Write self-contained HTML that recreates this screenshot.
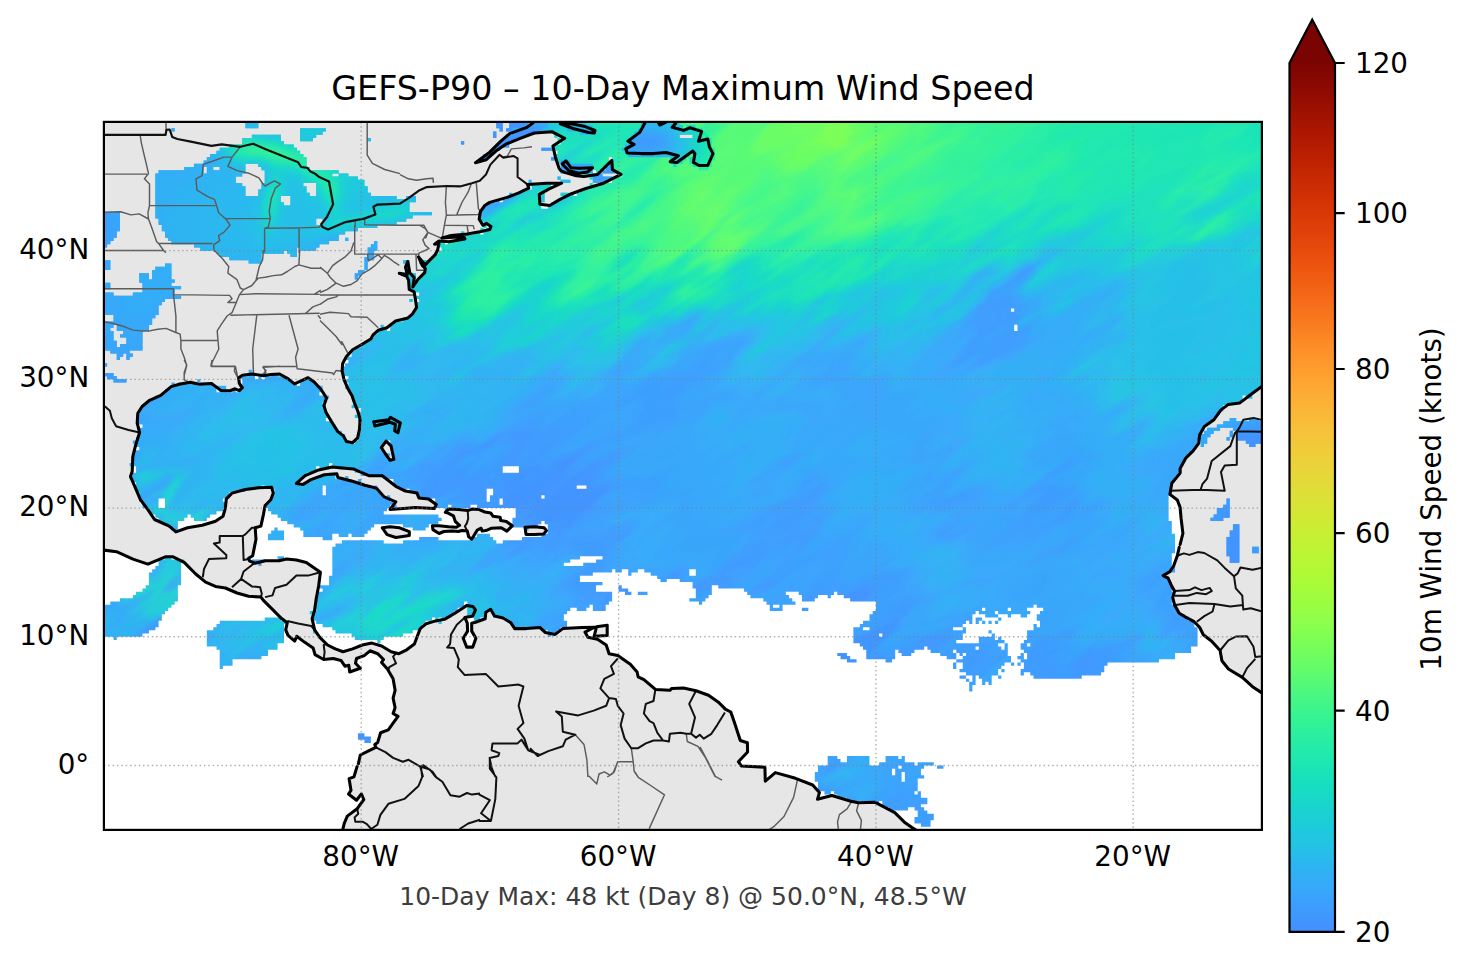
<!DOCTYPE html><html><head><meta charset="utf-8"><title>GEFS-P90</title>
<style>html,body{margin:0;padding:0;background:#fff}svg{display:block}text{font-family:"DejaVu Sans","Liberation Sans",sans-serif;fill:#000}</style></head><body>
<svg width="1466" height="969" viewBox="0 0 1466 969">
<defs>
<linearGradient id="cb" gradientUnits="userSpaceOnUse" x1="0" y1="931.9" x2="0" y2="63.0"><stop offset="0.0000" stop-color="#448ffe"/><stop offset="0.0250" stop-color="#3e9bfe"/><stop offset="0.0500" stop-color="#37a8fa"/><stop offset="0.0750" stop-color="#2eb4f2"/><stop offset="0.1000" stop-color="#23c3e4"/><stop offset="0.1250" stop-color="#1ccdd8"/><stop offset="0.1500" stop-color="#18d7ca"/><stop offset="0.1750" stop-color="#18e0bd"/><stop offset="0.2000" stop-color="#1fe9af"/><stop offset="0.2250" stop-color="#2aefa1"/><stop offset="0.2500" stop-color="#38f491"/><stop offset="0.2750" stop-color="#4af880"/><stop offset="0.3000" stop-color="#61fc6c"/><stop offset="0.3250" stop-color="#75fe5c"/><stop offset="0.3500" stop-color="#88ff4e"/><stop offset="0.3750" stop-color="#99fe42"/><stop offset="0.4000" stop-color="#a9fb39"/><stop offset="0.4250" stop-color="#b7f735"/><stop offset="0.4500" stop-color="#c3f134"/><stop offset="0.4750" stop-color="#d0ea34"/><stop offset="0.5000" stop-color="#dde037"/><stop offset="0.5250" stop-color="#e7d739"/><stop offset="0.5500" stop-color="#efcd3a"/><stop offset="0.5750" stop-color="#f6c33a"/><stop offset="0.6000" stop-color="#fbb637"/><stop offset="0.6250" stop-color="#fea933"/><stop offset="0.6500" stop-color="#fe9b2d"/><stop offset="0.6750" stop-color="#fd8d27"/><stop offset="0.7000" stop-color="#fa7b1f"/><stop offset="0.7250" stop-color="#f66c19"/><stop offset="0.7500" stop-color="#f15d13"/><stop offset="0.7750" stop-color="#eb500e"/><stop offset="0.8000" stop-color="#e2430a"/><stop offset="0.8250" stop-color="#da3907"/><stop offset="0.8500" stop-color="#d02f05"/><stop offset="0.8750" stop-color="#c52603"/><stop offset="0.9000" stop-color="#b71d02"/><stop offset="0.9250" stop-color="#a91601"/><stop offset="0.9500" stop-color="#9b0f01"/><stop offset="0.9750" stop-color="#8b0902"/><stop offset="1.0000" stop-color="#7a0403"/></linearGradient>
<clipPath id="mapclip"><rect x="103.9" y="121.9" width="1158.0" height="708.0"/></clipPath>
<clipPath id="wm"><path transform="translate(103.90 121.90) scale(3.21667 3.21818)" d="M44 0h4v1h-4zM122 0h2v1h-2zM126 0h6v1h-6zM133 0h227v1h-227zM44 1h4v1h-4zM122 1h2v1h-2zM126 1h234v1h-234zM21 2h1v1h-1zM61 2h8v1h-8zM123 2h1v1h-1zM125 2h235v1h-235zM61 3h7v1h-7zM121 3h1v1h-1zM127 3h7v1h-7zM140 3h220v1h-220zM46 4h9v1h-9zM61 4h5v1h-5zM121 4h1v1h-1zM125 4h6v1h-6zM140 4h1v1h-1zM142 4h37v1h-37zM183 4h177v1h-177zM43 5h12v1h-12zM61 5h4v1h-4zM82 5h1v1h-1zM124 5h4v1h-4zM141 5h1v1h-1zM143 5h217v1h-217zM43 6h13v1h-13zM111 6h1v1h-1zM123 6h3v1h-3zM142 6h218v1h-218zM39 7h20v1h-20zM122 7h4v1h-4zM140 7h220v1h-220zM36 8h24v1h-24zM121 8h2v1h-2zM136 8h224v1h-224zM35 9h26v1h-26zM120 9h1v1h-1zM141 9h219v1h-219zM33 10h29v1h-29zM118 10h2v1h-2zM140 10h220v1h-220zM32 11h31v1h-31zM117 11h2v1h-2zM139 11h18v1h-18zM158 11h202v1h-202zM31 12h32v1h-32zM141 12h16v1h-16zM158 12h202v1h-202zM28 13h16v1h-16zM48 13h15v1h-15zM142 13h218v1h-218zM25 14h6v1h-6zM32 14h2v1h-2zM36 14h8v1h-8zM49 14h15v1h-15zM142 14h13v1h-13zM156 14h204v1h-204zM17 15h14v1h-14zM32 15h12v1h-12zM50 15h23v1h-23zM142 15h10v1h-10zM153 15h1v1h-1zM155 15h205v1h-205zM16 16h27v1h-27zM50 16h21v1h-21zM73 16h3v1h-3zM146 16h2v1h-2zM149 16h6v1h-6zM161 16h199v1h-199zM16 17h25v1h-25zM50 17h29v1h-29zM141 17h1v1h-1zM151 17h209v1h-209zM16 18h25v1h-25zM50 18h31v1h-31zM132 18h1v1h-1zM142 18h3v1h-3zM152 18h5v1h-5zM158 18h202v1h-202zM16 19h27v1h-27zM49 19h13v1h-13zM66 19h15v1h-15zM132 19h7v1h-7zM140 19h1v1h-1zM151 19h1v1h-1zM154 19h206v1h-206zM16 20h28v1h-28zM49 20h14v1h-14zM66 20h16v1h-16zM133 20h6v1h-6zM151 20h209v1h-209zM16 21h28v1h-28zM48 21h15v1h-15zM66 21h16v1h-16zM130 21h7v1h-7zM148 21h212v1h-212zM16 22h28v1h-28zM48 22h16v1h-16zM66 22h17v1h-17zM126 22h1v1h-1zM128 22h7v1h-7zM136 22h1v1h-1zM142 22h4v1h-4zM147 22h213v1h-213zM16 23h39v1h-39zM58 23h33v1h-33zM94 23h3v1h-3zM125 23h12v1h-12zM143 23h217v1h-217zM16 24h39v1h-39zM58 24h39v1h-39zM122 24h1v1h-1zM124 24h11v1h-11zM136 24h1v1h-1zM141 24h219v1h-219zM16 25h40v1h-40zM58 25h37v1h-37zM119 25h17v1h-17zM139 25h221v1h-221zM16 26h79v1h-79zM118 26h18v1h-18zM138 26h222v1h-222zM16 27h79v1h-79zM117 27h243v1h-243zM0 28h5v1h-5zM16 28h86v1h-86zM117 28h243v1h-243zM0 29h5v1h-5zM16 29h80v1h-80zM117 29h243v1h-243zM0 30h5v1h-5zM17 30h49v1h-49zM68 30h26v1h-26zM117 30h243v1h-243zM0 31h5v1h-5zM17 31h49v1h-49zM68 31h23v1h-23zM118 31h242v1h-242zM0 32h5v1h-5zM18 32h67v1h-67zM118 32h1v1h-1zM120 32h240v1h-240zM0 33h5v1h-5zM18 33h61v1h-61zM117 33h1v1h-1zM119 33h241v1h-241zM0 34h4v1h-4zM19 34h56v1h-56zM111 34h1v1h-1zM115 34h2v1h-2zM118 34h242v1h-242zM0 35h4v1h-4zM19 35h54v1h-54zM107 35h3v1h-3zM111 35h249v1h-249zM0 36h3v1h-3zM20 36h53v1h-53zM75 36h1v1h-1zM111 36h249v1h-249zM0 37h2v1h-2zM21 37h49v1h-49zM84 37h1v1h-1zM104 37h2v1h-2zM107 37h253v1h-253zM0 38h1v1h-1zM28 38h39v1h-39zM83 38h2v1h-2zM104 38h256v1h-256zM30 39h30v1h-30zM61 39h5v1h-5zM82 39h3v1h-3zM105 39h255v1h-255zM35 40h21v1h-21zM57 40h3v1h-3zM82 40h2v1h-2zM104 40h256v1h-256zM36 41h13v1h-13zM58 41h2v1h-2zM82 41h2v1h-2zM103 41h257v1h-257zM39 42h10v1h-10zM81 42h3v1h-3zM102 42h258v1h-258zM0 43h2v1h-2zM45 43h4v1h-4zM81 43h1v1h-1zM93 43h2v1h-2zM98 43h262v1h-262zM0 44h2v1h-2zM19 44h2v1h-2zM81 44h1v1h-1zM94 44h1v1h-1zM99 44h261v1h-261zM0 45h2v1h-2zM16 45h5v1h-5zM81 45h1v1h-1zM100 45h260v1h-260zM15 46h6v1h-6zM79 46h2v1h-2zM94 46h1v1h-1zM100 46h260v1h-260zM11 47h3v1h-3zM15 47h6v1h-6zM78 47h2v1h-2zM94 47h3v1h-3zM99 47h261v1h-261zM11 48h3v1h-3zM15 48h6v1h-6zM78 48h1v1h-1zM94 48h3v1h-3zM98 48h262v1h-262zM11 49h11v1h-11zM95 49h1v1h-1zM97 49h263v1h-263zM0 50h2v1h-2zM12 50h9v1h-9zM95 50h1v1h-1zM97 50h263v1h-263zM0 51h2v1h-2zM12 51h12v1h-12zM95 51h265v1h-265zM12 52h10v1h-10zM96 52h264v1h-264zM0 53h3v1h-3zM9 53h13v1h-13zM98 53h262v1h-262zM0 54h24v1h-24zM97 54h263v1h-263zM0 55h19v1h-19zM95 55h1v1h-1zM98 55h262v1h-262zM0 56h18v1h-18zM97 56h263v1h-263zM0 57h17v1h-17zM97 57h263v1h-263zM0 58h17v1h-17zM97 58h185v1h-185zM283 58h77v1h-77zM0 59h17v1h-17zM96 59h264v1h-264zM3 60h13v1h-13zM95 60h265v1h-265zM3 61h12v1h-12zM93 61h267v1h-267zM0 62h15v1h-15zM90 62h270v1h-270zM0 63h3v1h-3zM4 63h10v1h-10zM86 63h1v1h-1zM89 63h194v1h-194zM284 63h76v1h-76zM0 64h2v1h-2zM4 64h10v1h-10zM86 64h2v1h-2zM89 64h194v1h-194zM284 64h76v1h-76zM0 65h3v1h-3zM6 65h6v1h-6zM85 65h275v1h-275zM0 66h3v1h-3zM5 66h7v1h-7zM84 66h276v1h-276zM0 67h3v1h-3zM7 67h5v1h-5zM83 67h277v1h-277zM0 68h4v1h-4zM7 68h5v1h-5zM81 68h279v1h-279zM0 69h4v1h-4zM5 69h7v1h-7zM80 69h280v1h-280zM0 70h12v1h-12zM78 70h282v1h-282zM2 71h6v1h-6zM77 71h283v1h-283zM4 72h2v1h-2zM7 72h2v1h-2zM77 72h283v1h-283zM4 73h1v1h-1zM7 73h1v1h-1zM75 73h285v1h-285zM76 74h284v1h-284zM0 75h1v1h-1zM75 75h285v1h-285zM74 76h286v1h-286zM45 77h1v1h-1zM74 77h286v1h-286zM0 78h3v1h-3zM45 78h2v1h-2zM49 78h1v1h-1zM52 78h2v1h-2zM74 78h286v1h-286zM1 79h3v1h-3zM42 79h5v1h-5zM48 79h1v1h-1zM50 79h7v1h-7zM76 79h284v1h-284zM3 80h4v1h-4zM29 80h1v1h-1zM43 80h15v1h-15zM61 80h4v1h-4zM75 80h285v1h-285zM21 81h1v1h-1zM23 81h6v1h-6zM30 81h4v1h-4zM43 81h17v1h-17zM61 81h5v1h-5zM76 81h284v1h-284zM21 82h17v1h-17zM43 82h25v1h-25zM75 82h285v1h-285zM19 83h16v1h-16zM36 83h2v1h-2zM40 83h1v1h-1zM42 83h26v1h-26zM76 83h282v1h-282zM18 84h49v1h-49zM77 84h280v1h-280zM16 85h54v1h-54zM77 85h277v1h-277zM355 85h2v1h-2zM14 86h55v1h-55zM78 86h276v1h-276zM13 87h55v1h-55zM78 87h274v1h-274zM12 88h57v1h-57zM77 88h271v1h-271zM11 89h58v1h-58zM80 89h268v1h-268zM11 90h58v1h-58zM79 90h268v1h-268zM10 91h60v1h-60zM78 91h268v1h-268zM10 92h59v1h-59zM79 92h266v1h-266zM350 92h2v1h-2zM356 92h3v1h-3zM10 93h61v1h-61zM80 93h264v1h-264zM348 93h12v1h-12zM12 94h60v1h-60zM80 94h262v1h-262zM346 94h14v1h-14zM11 95h61v1h-61zM79 95h263v1h-263zM343 95h4v1h-4zM351 95h9v1h-9zM11 96h63v1h-63zM79 96h262v1h-262zM342 96h3v1h-3zM350 96h1v1h-1zM352 96h8v1h-8zM11 97h64v1h-64zM79 97h265v1h-265zM350 97h1v1h-1zM352 97h8v1h-8zM10 98h65v1h-65zM79 98h264v1h-264zM349 98h1v1h-1zM352 98h8v1h-8zM9 99h67v1h-67zM78 99h9v1h-9zM89 99h251v1h-251zM341 99h2v1h-2zM355 99h5v1h-5zM10 100h77v1h-77zM89 100h251v1h-251zM341 100h1v1h-1zM356 100h2v1h-2zM11 101h75v1h-75zM89 101h250v1h-250zM9 102h78v1h-78zM90 102h248v1h-248zM9 103h80v1h-80zM90 103h247v1h-247zM9 104h79v1h-79zM90 104h246v1h-246zM9 105h327v1h-327zM8 106h62v1h-62zM71 106h264v1h-264zM10 107h56v1h-56zM67 107h3v1h-3zM73 107h51v1h-51zM129 107h206v1h-206zM10 108h56v1h-56zM78 108h46v1h-46zM129 108h206v1h-206zM9 109h54v1h-54zM70 109h2v1h-2zM80 109h254v1h-254zM8 110h54v1h-54zM66 110h6v1h-6zM75 110h1v1h-1zM87 110h246v1h-246zM9 111h52v1h-52zM64 111h13v1h-13zM79 111h1v1h-1zM90 111h243v1h-243zM10 112h51v1h-51zM62 112h18v1h-18zM90 112h242v1h-242zM10 113h39v1h-39zM50 113h18v1h-18zM69 113h14v1h-14zM84 113h1v1h-1zM91 113h56v1h-56zM150 113h182v1h-182zM10 114h34v1h-34zM53 114h15v1h-15zM69 114h16v1h-16zM93 114h1v1h-1zM95 114h24v1h-24zM121 114h211v1h-211zM11 115h28v1h-28zM53 115h15v1h-15zM69 115h17v1h-17zM97 115h22v1h-22zM121 115h211v1h-211zM11 116h28v1h-28zM52 116h35v1h-35zM88 116h1v1h-1zM98 116h21v1h-21zM120 116h16v1h-16zM137 116h194v1h-194zM11 117h6v1h-6zM19 117h18v1h-18zM52 117h37v1h-37zM101 117h1v1h-1zM103 117h16v1h-16zM120 117h3v1h-3zM124 117h207v1h-207zM349 117h1v1h-1zM12 118h5v1h-5zM19 118h19v1h-19zM51 118h39v1h-39zM103 118h20v1h-20zM124 118h207v1h-207zM349 118h1v1h-1zM12 119h5v1h-5zM19 119h19v1h-19zM50 119h39v1h-39zM90 119h1v1h-1zM103 119h4v1h-4zM108 119h6v1h-6zM116 119h215v1h-215zM348 119h2v1h-2zM14 120h23v1h-23zM51 120h37v1h-37zM106 120h1v1h-1zM128 120h203v1h-203zM346 120h4v1h-4zM14 121h21v1h-21zM52 121h35v1h-35zM128 121h203v1h-203zM346 121h4v1h-4zM16 122h10v1h-10zM27 122h6v1h-6zM54 122h50v1h-50zM128 122h203v1h-203zM345 122h5v1h-5zM17 123h8v1h-8zM28 123h4v1h-4zM55 123h50v1h-50zM127 123h204v1h-204zM344 123h4v1h-4zM18 124h5v1h-5zM57 124h47v1h-47zM127 124h9v1h-9zM137 124h195v1h-195zM20 125h3v1h-3zM59 125h25v1h-25zM93 125h8v1h-8zM127 125h8v1h-8zM138 125h194v1h-194zM351 125h2v1h-2zM21 126h2v1h-2zM53 126h1v1h-1zM61 126h22v1h-22zM96 126h4v1h-4zM131 126h1v1h-1zM138 126h194v1h-194zM351 126h2v1h-2zM52 127h4v1h-4zM62 127h20v1h-20zM138 127h194v1h-194zM350 127h3v1h-3zM51 128h5v1h-5zM62 128h9v1h-9zM73 128h3v1h-3zM77 128h4v1h-4zM116 128h4v1h-4zM136 128h197v1h-197zM350 128h3v1h-3zM51 129h5v1h-5zM68 129h3v1h-3zM98 129h6v1h-6zM114 129h7v1h-7zM130 129h203v1h-203zM349 129h4v1h-4zM74 130h13v1h-13zM93 130h29v1h-29zM124 130h209v1h-209zM349 130h4v1h-4zM72 131h261v1h-261zM349 131h4v1h-4zM71 132h262v1h-262zM349 132h4v1h-4zM357 132h2v1h-2zM71 133h262v1h-262zM349 133h4v1h-4zM357 133h2v1h-2zM71 134h261v1h-261zM349 134h4v1h-4zM19 135h2v1h-2zM54 135h2v1h-2zM71 135h77v1h-77zM155 135h177v1h-177zM350 135h3v1h-3zM17 136h8v1h-8zM46 136h4v1h-4zM71 136h74v1h-74zM153 136h179v1h-179zM350 136h3v1h-3zM17 137h7v1h-7zM48 137h1v1h-1zM71 137h72v1h-72zM149 137h183v1h-183zM16 138h8v1h-8zM71 138h262v1h-262zM15 139h9v1h-9zM71 139h87v1h-87zM159 139h2v1h-2zM163 139h3v1h-3zM168 139h14v1h-14zM184 139h149v1h-149zM14 140h10v1h-10zM71 140h81v1h-81zM163 140h1v1h-1zM170 140h12v1h-12zM184 140h146v1h-146zM14 141h10v1h-10zM70 141h78v1h-78zM172 141h159v1h-159zM14 142h10v1h-10zM70 142h78v1h-78zM173 142h2v1h-2zM179 142h152v1h-152zM14 143h10v1h-10zM70 143h85v1h-85zM183 143h149v1h-149zM13 144h10v1h-10zM67 144h86v1h-86zM160 144h1v1h-1zM183 144h6v1h-6zM191 144h141v1h-141zM12 145h11v1h-11zM68 145h85v1h-85zM160 145h3v1h-3zM184 145h5v1h-5zM199 145h133v1h-133zM10 146h13v1h-13zM66 146h92v1h-92zM162 146h2v1h-2zM166 146h3v1h-3zM184 146h5v1h-5zM200 146h12v1h-12zM216 146h11v1h-11zM228 146h105v1h-105zM9 147h14v1h-14zM66 147h92v1h-92zM184 147h4v1h-4zM201 147h12v1h-12zM217 147h5v1h-5zM225 147h1v1h-1zM230 147h102v1h-102zM5 148h18v1h-18zM66 148h92v1h-92zM182 148h5v1h-5zM205 148h9v1h-9zM217 148h4v1h-4zM232 148h100v1h-100zM2 149h20v1h-20zM66 149h46v1h-46zM113 149h44v1h-44zM185 149h1v1h-1zM206 149h9v1h-9zM240 149h92v1h-92zM0 150h21v1h-21zM66 150h46v1h-46zM113 150h38v1h-38zM152 150h4v1h-4zM207 150h1v1h-1zM210 150h1v1h-1zM240 150h49v1h-49zM290 150h43v1h-43zM0 151h20v1h-20zM66 151h44v1h-44zM113 151h32v1h-32zM147 151h3v1h-3zM152 151h4v1h-4zM207 151h4v1h-4zM217 151h2v1h-2zM240 151h33v1h-33zM274 151h7v1h-7zM282 151h5v1h-5zM292 151h42v1h-42zM0 152h19v1h-19zM64 152h45v1h-45zM113 152h6v1h-6zM121 152h23v1h-23zM239 152h32v1h-32zM272 152h5v1h-5zM278 152h10v1h-10zM291 152h43v1h-43zM0 153h18v1h-18zM65 153h43v1h-43zM113 153h6v1h-6zM121 153h22v1h-22zM238 153h32v1h-32zM274 153h4v1h-4zM281 153h1v1h-1zM285 153h2v1h-2zM290 153h46v1h-46zM0 154h18v1h-18zM50 154h5v1h-5zM65 154h37v1h-37zM103 154h1v1h-1zM105 154h1v1h-1zM115 154h2v1h-2zM125 154h18v1h-18zM238 154h32v1h-32zM271 154h2v1h-2zM278 154h1v1h-1zM290 154h47v1h-47zM0 155h17v1h-17zM36 155h21v1h-21zM66 155h34v1h-34zM104 155h1v1h-1zM126 155h18v1h-18zM236 155h32v1h-32zM269 155h1v1h-1zM271 155h1v1h-1zM273 155h1v1h-1zM275 155h1v1h-1zM277 155h1v1h-1zM291 155h48v1h-48zM0 156h17v1h-17zM35 156h21v1h-21zM68 156h31v1h-31zM127 156h17v1h-17zM235 156h32v1h-32zM289 156h1v1h-1zM291 156h48v1h-48zM0 157h16v1h-16zM34 157h22v1h-22zM71 157h27v1h-27zM136 157h6v1h-6zM233 157h3v1h-3zM238 157h26v1h-26zM267 157h1v1h-1zM289 157h51v1h-51zM0 158h14v1h-14zM32 158h24v1h-24zM65 158h1v1h-1zM72 158h24v1h-24zM138 158h3v1h-3zM233 158h35v1h-35zM275 158h1v1h-1zM287 158h53v1h-53zM0 159h12v1h-12zM32 159h24v1h-24zM77 159h16v1h-16zM138 159h1v1h-1zM233 159h8v1h-8zM242 159h25v1h-25zM276 159h1v1h-1zM287 159h53v1h-53zM3 160h1v1h-1zM32 160h24v1h-24zM78 160h9v1h-9zM233 160h34v1h-34zM272 160h5v1h-5zM278 160h1v1h-1zM287 160h53v1h-53zM32 161h24v1h-24zM85 161h1v1h-1zM233 161h32v1h-32zM272 161h8v1h-8zM286 161h54v1h-54zM32 162h22v1h-22zM235 162h43v1h-43zM280 162h1v1h-1zM285 162h2v1h-2zM288 162h52v1h-52zM35 163h19v1h-19zM236 163h19v1h-19zM256 163h15v1h-15zM272 163h7v1h-7zM280 163h1v1h-1zM285 163h53v1h-53zM36 164h15v1h-15zM237 164h9v1h-9zM247 164h5v1h-5zM257 164h7v1h-7zM265 164h16v1h-16zM286 164h52v1h-52zM36 165h15v1h-15zM228 165h3v1h-3zM237 165h9v1h-9zM248 165h3v1h-3zM260 165h5v1h-5zM266 165h1v1h-1zM268 165h13v1h-13zM285 165h1v1h-1zM287 165h46v1h-46zM36 166h13v1h-13zM229 166h3v1h-3zM237 166h9v1h-9zM262 166h3v1h-3zM267 166h15v1h-15zM284 166h2v1h-2zM287 166h46v1h-46zM36 167h4v1h-4zM231 167h3v1h-3zM243 167h2v1h-2zM265 167h17v1h-17zM285 167h43v1h-43zM36 168h4v1h-4zM264 168h1v1h-1zM267 168h13v1h-13zM282 168h1v1h-1zM284 168h1v1h-1zM286 168h26v1h-26zM36 169h1v1h-1zM264 169h1v1h-1zM267 169h12v1h-12zM286 169h25v1h-25zM266 170h12v1h-12zM279 170h1v1h-1zM285 170h26v1h-26zM268 171h10v1h-10zM285 171h1v1h-1zM288 171h22v1h-22zM266 172h2v1h-2zM270 172h1v1h-1zM272 172h4v1h-4zM278 172h1v1h-1zM289 172h15v1h-15zM268 173h1v1h-1zM270 173h1v1h-1zM273 173h3v1h-3zM269 174h2v1h-2zM273 174h1v1h-1zM275 174h1v1h-1zM269 175h1v1h-1zM269 176h1v1h-1zM79 190h2v1h-2zM79 191h4v1h-4zM81 192h2v1h-2zM225 197h3v1h-3zM231 197h7v1h-7zM243 197h4v1h-4zM248 197h1v1h-1zM225 198h4v1h-4zM231 198h7v1h-7zM243 198h6v1h-6zM225 199h13v1h-13zM241 199h11v1h-11zM253 199h5v1h-5zM222 200h25v1h-25zM248 200h7v1h-7zM259 200h2v1h-2zM222 201h23v1h-23zM246 201h8v1h-8zM221 202h24v1h-24zM246 202h2v1h-2zM249 202h5v1h-5zM221 203h27v1h-27zM249 203h6v1h-6zM221 204h27v1h-27zM249 204h4v1h-4zM222 205h31v1h-31zM222 206h31v1h-31zM222 207h31v1h-31zM224 208h2v1h-2zM227 208h25v1h-25zM253 208h1v1h-1zM228 209h26v1h-26zM231 210h25v1h-25zM240 211h1v1h-1zM242 211h14v1h-14zM242 212h12v1h-12zM244 213h6v1h-6zM252 213h3v1h-3zM253 214h3v1h-3zM253 215h5v1h-5zM252 216h6v1h-6zM252 217h5v1h-5zM254 218h3v1h-3z"/></clipPath><clipPath id="wl"><path transform="translate(103.90 121.90) scale(3.21667 3.21818)" d="M44 0h4v1h-4zM122 0h2v1h-2zM126 0h6v1h-6zM133 0h5v1h-5zM144 0h6v1h-6zM167 0h12v1h-12zM44 1h4v1h-4zM122 1h2v1h-2zM126 1h12v1h-12zM143 1h9v1h-9zM167 1h13v1h-13zM181 1h3v1h-3zM21 2h1v1h-1zM61 2h8v1h-8zM123 2h1v1h-1zM125 2h2v1h-2zM129 2h7v1h-7zM144 2h9v1h-9zM166 2h20v1h-20zM61 3h7v1h-7zM121 3h1v1h-1zM127 3h7v1h-7zM148 3h4v1h-4zM165 3h22v1h-22zM46 4h9v1h-9zM61 4h5v1h-5zM121 4h1v1h-1zM125 4h6v1h-6zM164 4h15v1h-15zM183 4h3v1h-3zM187 4h1v1h-1zM43 5h12v1h-12zM61 5h4v1h-4zM82 5h1v1h-1zM124 5h4v1h-4zM163 5h26v1h-26zM43 6h13v1h-13zM111 6h1v1h-1zM123 6h3v1h-3zM163 6h26v1h-26zM39 7h20v1h-20zM122 7h2v1h-2zM162 7h27v1h-27zM36 8h24v1h-24zM121 8h2v1h-2zM136 8h4v1h-4zM161 8h29v1h-29zM35 9h26v1h-26zM120 9h1v1h-1zM162 9h28v1h-28zM33 10h29v1h-29zM118 10h2v1h-2zM163 10h19v1h-19zM183 10h7v1h-7zM32 11h31v1h-31zM117 11h2v1h-2zM139 11h2v1h-2zM176 11h5v1h-5zM182 11h8v1h-8zM31 12h32v1h-32zM142 12h3v1h-3zM176 12h4v1h-4zM182 12h7v1h-7zM28 13h16v1h-16zM48 13h15v1h-15zM142 13h10v1h-10zM157 13h1v1h-1zM177 13h1v1h-1zM183 13h6v1h-6zM25 14h6v1h-6zM32 14h2v1h-2zM36 14h8v1h-8zM49 14h15v1h-15zM142 14h10v1h-10zM156 14h2v1h-2zM185 14h3v1h-3zM17 15h14v1h-14zM32 15h12v1h-12zM50 15h23v1h-23zM142 15h10v1h-10zM155 15h4v1h-4zM16 16h27v1h-27zM50 16h21v1h-21zM73 16h3v1h-3zM152 16h3v1h-3zM16 17h25v1h-25zM50 17h29v1h-29zM141 17h1v1h-1zM152 17h6v1h-6zM16 18h25v1h-25zM50 18h31v1h-31zM142 18h3v1h-3zM152 18h4v1h-4zM16 19h27v1h-27zM49 19h13v1h-13zM66 19h15v1h-15zM16 20h28v1h-28zM49 20h14v1h-14zM66 20h16v1h-16zM16 21h28v1h-28zM48 21h15v1h-15zM66 21h16v1h-16zM16 22h28v1h-28zM48 22h16v1h-16zM66 22h17v1h-17zM136 22h1v1h-1zM142 22h2v1h-2zM16 23h39v1h-39zM58 23h33v1h-33zM94 23h3v1h-3zM136 23h1v1h-1zM16 24h39v1h-39zM58 24h39v1h-39zM136 24h1v1h-1zM16 25h40v1h-40zM58 25h37v1h-37zM16 26h79v1h-79zM16 27h79v1h-79zM0 28h5v1h-5zM16 28h86v1h-86zM0 29h5v1h-5zM16 29h80v1h-80zM0 30h5v1h-5zM17 30h49v1h-49zM68 30h26v1h-26zM0 31h5v1h-5zM17 31h49v1h-49zM68 31h23v1h-23zM0 32h5v1h-5zM18 32h67v1h-67zM0 33h5v1h-5zM18 33h61v1h-61zM0 34h4v1h-4zM19 34h56v1h-56zM0 35h4v1h-4zM19 35h54v1h-54zM0 36h3v1h-3zM20 36h53v1h-53zM75 36h1v1h-1zM0 37h2v1h-2zM21 37h49v1h-49zM84 37h1v1h-1zM0 38h1v1h-1zM28 38h39v1h-39zM83 38h2v1h-2zM30 39h30v1h-30zM61 39h5v1h-5zM82 39h3v1h-3zM35 40h21v1h-21zM57 40h3v1h-3zM82 40h2v1h-2zM36 41h13v1h-13zM58 41h2v1h-2zM82 41h2v1h-2zM39 42h10v1h-10zM81 42h3v1h-3zM0 43h2v1h-2zM45 43h4v1h-4zM81 43h1v1h-1zM93 43h2v1h-2zM98 43h3v1h-3zM0 44h2v1h-2zM19 44h2v1h-2zM81 44h1v1h-1zM0 45h2v1h-2zM16 45h5v1h-5zM81 45h1v1h-1zM15 46h6v1h-6zM79 46h2v1h-2zM11 47h3v1h-3zM15 47h6v1h-6zM78 47h2v1h-2zM95 47h2v1h-2zM11 48h3v1h-3zM15 48h6v1h-6zM78 48h1v1h-1zM95 48h2v1h-2zM11 49h11v1h-11zM0 50h2v1h-2zM12 50h9v1h-9zM0 51h2v1h-2zM12 51h12v1h-12zM12 52h10v1h-10zM0 53h3v1h-3zM9 53h13v1h-13zM0 54h24v1h-24zM0 55h19v1h-19zM95 55h1v1h-1zM0 56h18v1h-18zM0 57h17v1h-17zM0 58h17v1h-17zM0 59h17v1h-17zM3 60h13v1h-13zM3 61h12v1h-12zM0 62h15v1h-15zM0 63h3v1h-3zM4 63h10v1h-10zM0 64h2v1h-2zM4 64h10v1h-10zM0 65h3v1h-3zM6 65h6v1h-6zM0 66h3v1h-3zM5 66h7v1h-7zM0 67h3v1h-3zM7 67h5v1h-5zM0 68h4v1h-4zM7 68h5v1h-5zM0 69h4v1h-4zM5 69h7v1h-7zM0 70h12v1h-12zM2 71h6v1h-6zM4 72h2v1h-2zM7 72h2v1h-2zM4 73h1v1h-1zM7 73h1v1h-1zM0 75h1v1h-1zM0 78h3v1h-3zM1 79h3v1h-3zM3 80h4v1h-4zM350 92h2v1h-2zM356 92h3v1h-3zM348 93h12v1h-12zM346 94h14v1h-14zM343 95h4v1h-4zM351 95h9v1h-9zM342 96h3v1h-3zM350 96h1v1h-1zM352 96h8v1h-8zM341 97h3v1h-3zM350 97h1v1h-1zM352 97h8v1h-8zM341 98h2v1h-2zM349 98h1v1h-1zM352 98h8v1h-8zM341 99h2v1h-2zM355 99h5v1h-5zM341 100h1v1h-1zM356 100h2v1h-2zM349 117h1v1h-1zM349 118h1v1h-1zM348 119h2v1h-2zM346 120h4v1h-4zM346 121h4v1h-4zM345 122h5v1h-5zM344 123h4v1h-4zM351 125h2v1h-2zM351 126h2v1h-2zM350 127h3v1h-3zM350 128h3v1h-3zM349 129h4v1h-4zM349 130h4v1h-4zM349 131h4v1h-4zM349 132h4v1h-4zM357 132h2v1h-2zM349 133h4v1h-4zM357 133h2v1h-2zM349 134h4v1h-4zM350 135h3v1h-3zM350 136h3v1h-3zM113 150h3v1h-3zM113 151h3v1h-3zM113 152h3v1h-3zM113 153h2v1h-2z"/></clipPath><filter id="wb" x="-5%" y="-5%" width="110%" height="110%" color-interpolation-filters="sRGB"><feGaussianBlur stdDeviation="0.550"/></filter><filter id="wb2" x="-5%" y="-5%" width="110%" height="110%" color-interpolation-filters="sRGB"><feGaussianBlur stdDeviation="0.6"/></filter><filter id="wd" x="-5%" y="-5%" width="110%" height="110%" color-interpolation-filters="sRGB"><feTurbulence type="fractalNoise" baseFrequency="0.011 0.042" numOctaves="3" seed="11" result="n"/><feDisplacementMap in="SourceGraphic" in2="n" scale="105" xChannelSelector="R" yChannelSelector="G"/></filter>
</defs>
<rect width="1466" height="969" fill="#fff"/>
<g clip-path="url(#mapclip)">
<path d="M534.1 121.0L533.1 122.7L526.9 127.4L509.6 133.6L500.9 141.1L489.7 152.2L475.5 162.7L486.0 159.9L495.9 151.0L505.8 144.2L519.5 138.6L534.3 133.0L552.3 131.8L564.7 138.3L552.9 146.0L555.4 157.2L559.1 168.3L561.0 170.8L565.3 172.6L576.4 175.7L583.9 176.4L597.5 174.5L611.8 160.3L612.4 169.6L621.0 174.3L603.7 183.2L585.1 188.8L571.5 193.7L559.1 199.9L549.8 205.5L539.9 204.2L539.3 194.3L549.2 188.8L561.6 183.2L546.7 183.2L527.5 184.4L528.8 188.1L518.2 193.1L507.1 197.4L489.7 202.4L484.8 205.5L480.4 211.7L479.2 219.1L482.9 225.3L486.6 223.4L491.0 226.5L489.7 229.6L481.1 231.5L467.4 234.0L467.4 233.9L451.3 235.5L442.0 238.0L456.3 237.1L464.3 237.4L464.9 238.9L448.8 241.7L438.9 241.1L434.6 244.2L438.9 243.6L437.7 249.8L435.2 254.7L429.0 260.9L425.3 264.9L418.5 257.0L422.2 265.3L425.3 268.4L424.7 272.7L417.9 279.5L412.9 286.9L414.2 277.6L409.8 272.7L408.6 265.9L407.7 261.5L405.5 267.1L407.3 274.6L399.3 273.3L406.7 276.4L408.6 280.1L409.2 289.4L414.2 291.9L415.4 299.3L416.6 307.4L412.3 314.2L408.0 317.9L395.6 321.0L386.9 327.8L378.2 330.3L373.3 334.6L370.8 339.0L360.9 345.0L360.9 345.0L352.6 349.8L346.4 356.6L342.7 363.4L342.1 370.9L344.0 379.6L347.7 388.2L352.0 395.7L354.5 403.1L357.6 410.5L360.1 419.2L359.5 429.1L357.6 437.8L352.6 442.7L346.4 441.5L343.4 435.9L337.8 431.6L331.6 421.7L326.0 412.4L323.9 405.6L326.6 398.1L321.1 389.5L314.2 382.0L308.0 377.7L301.2 380.8L294.4 383.9L288.2 378.9L279.6 374.0L270.9 374.6L263.4 375.8L252.3 374.0L242.4 375.2L238.7 377.7L239.3 383.3L242.4 387.6L239.3 390.7L235.0 388.8L230.0 390.7L230.0 390.7L220.8 390.4L211.5 383.5L199.1 384.2L190.4 382.3L179.3 384.2L171.2 386.6L160.7 395.3L149.6 400.3L142.1 406.5L137.8 413.3L137.2 423.2L139.6 432.5L135.9 444.2L132.8 456.6L132.2 471.5L132.2 471.5L130.5 476.6L135.5 488.2L140.4 499.7L147.9 509.6L154.5 519.5L169.3 526.1L175.9 531.9L187.5 527.8L202.3 525.3L215.5 521.2L223.0 516.2L225.4 508.0L226.3 498.9L232.0 493.1L245.3 489.5L258.5 487.8L271.7 487.3L273.3 493.1L270.8 499.7L265.1 505.5L263.4 514.6L260.9 526.1L255.2 527.8L256.0 539.3L254.3 547.6L252.7 555.8L248.6 558.3L249.4 560.8L255.2 563.3L265.1 560.8L279.1 560.8L286.5 559.1L296.4 560.0L306.3 562.4L320.4 572.3L318.7 585.5L316.2 598.7L314.6 610.3L312.1 618.6L314.6 629.9L314.6 629.9L319.8 637.3L327.5 645.0L335.3 648.9L343.0 651.8L352.6 648.9L362.3 645.0L371.9 643.1L381.6 646.0L391.2 651.8L398.9 653.7L406.7 649.8L414.4 644.0L417.3 636.3L420.2 628.6L426.0 623.8L435.6 620.9L445.3 618.9L454.9 613.2L462.6 608.3L466.7 605.4L472.8 606.4L475.5 609.9L472.8 615.9L464.9 617.6L467.3 623.2L467.6 631.1L463.2 638.2L466.7 647.1L472.8 647.1L475.9 638.2L471.7 631.1L471.7 623.2L475.5 622.2L485.2 618.8L485.8 612.2L490.6 609.3L494.5 616.1L503.1 618.0L510.9 622.8L514.7 628.6L526.3 628.6L540.0 627.6L540.0 627.6L545.4 632.5L555.1 634.4L562.8 628.6L582.1 627.6L594.6 627.2L585.0 632.1L587.9 637.3L597.5 639.2L606.2 645.0L609.1 653.7L617.8 655.6L630.3 664.3L637.1 672.0L638.1 676.8L643.9 679.7L655.4 689.4L669.9 690.3L671.8 688.4L683.4 688.0L696.0 690.7L708.5 695.2L718.1 701.9L724.9 708.7L724.8 708.8L730.8 712.0L734.6 723.1L740.3 740.5L747.4 742.8L747.6 752.0L738.4 761.7L741.3 765.9L764.9 767.2L765.3 781.2L775.4 772.6L795.5 778.3L812.7 785.0L819.4 792.6L817.5 799.3L831.8 795.5L850.9 801.2L858.5 802.8L874.8 802.2L894.8 812.7L904.4 822.2L912.0 827.6L916.8 830.5L916.0 845.0L340.0 845.0L342.5 830.9L344.2 823.5L347.3 816.1L357.1 808.8L363.8 799.5L361.4 794.0L356.5 800.2L348.5 794.0L351.0 790.3L349.1 778.7L354.0 776.8L357.1 766.4L358.4 763.7L360.3 755.0L368.1 751.1L375.8 747.3L374.8 744.4L377.7 742.4L380.6 732.8L388.3 729.9L393.1 723.1L398.0 716.4L393.1 713.5L395.1 707.7L393.1 698.1L395.1 690.3L393.1 678.8L387.4 669.1L381.6 662.4L383.5 659.5L377.7 653.7L370.0 650.8L364.2 655.6L356.5 658.5L355.5 663.3L360.3 668.2L349.7 672.0L348.8 665.3L344.9 666.2L341.0 660.4L333.3 658.5L323.7 659.5L315.0 654.6L313.1 647.9L304.4 642.1L296.7 636.3L294.7 641.1L288.0 635.3L285.7 629.9L285.7 629.9L287.3 622.7L281.6 618.6L271.7 608.7L263.4 600.4L260.9 597.1L248.6 596.3L237.0 593.0L225.4 588.0L215.5 586.4L205.6 582.2L195.7 574.0L184.2 562.4L172.6 556.7L166.0 556.7L147.9 564.1L133.0 559.1L116.5 551.7L103.6 550.1L100.0 549.7L90.0 548.0L90.0 100.0L536.0 100.0Z" fill="#e6e6e6"/>
<path d="M1263.7 384.9L1261.5 386.7L1252.5 393.2L1239.5 403.1L1228.4 404.4L1221.0 409.9L1213.6 420.1L1204.3 426.6L1199.6 435.0L1198.7 443.3L1193.1 450.8L1185.7 458.2L1180.1 468.4L1180.1 473.1L1171.8 483.3L1169.9 494.4L1177.3 500.0L1180.1 507.4L1181.1 518.5L1182.9 533.4L1180.1 544.5L1179.2 547.4L1177.3 555.8L1173.6 566.0L1169.9 571.6L1163.1 575.6L1168.1 578.1L1171.8 586.4L1174.6 591.1L1172.7 597.6L1174.6 605.0L1179.2 613.3L1185.7 617.1L1194.1 621.7L1199.6 627.3L1203.3 634.7L1211.7 641.2L1220.1 650.5L1221.9 660.7L1228.4 669.0L1242.3 677.4L1252.5 686.7L1261.5 692.6L1264.6 694.5L1275.0 700.0L1275.0 380.0Z" fill="#e6e6e6"/>
<path d="" fill="#fff"/>
<path d="M562.2 164.0L565.9 160.9L570.9 167.7L578.9 168.3L592.6 167.7L587.6 172.0L578.9 173.3L569.0 170.8Z" fill="#e6e6e6"/>
<path d="M560.3 123.7L571.5 123.7L583.9 126.2L595.0 130.5L594.4 133.0L588.8 132.4L574.0 128.7Z" fill="#e6e6e6"/>
<path d="M373.7 421.7L388.6 419.8L390.4 417.3L400.3 422.9L397.9 432.8L394.8 431.0L395.4 424.2L389.8 422.3L374.9 426.0Z" fill="#e6e6e6"/>
<path d="M296.4 483.4L305.1 475.7L318.6 469.9L332.1 467.0L353.3 468.9L368.8 475.7L382.3 475.7L395.8 486.3L405.4 491.1L417.0 493.1L418.9 497.9L428.6 498.9L436.3 504.6L434.4 508.5L415.1 507.5L403.5 508.5L390.0 509.5L395.8 501.8L384.2 496.9L376.5 488.2L364.9 485.3L353.3 481.5L337.9 477.6L336.9 473.8L324.4 474.7L310.9 479.6L303.2 484.4Z" fill="#e6e6e6"/>
<path d="M382.3 527.8L390.0 526.8L399.6 527.8L409.3 531.7L409.3 535.5L395.8 537.5L387.1 534.6Z" fill="#e6e6e6"/>
<path d="M445.3 512.4L448.6 509.1L458.2 509.6L467.7 510.5L472.0 509.1L479.2 509.6L484.9 512.0L490.7 512.9L493.1 516.3L500.2 517.2L500.7 520.6L506.4 521.5L512.2 525.8L506.9 531.1L501.2 527.7L491.6 528.2L485.9 530.6L482.1 531.1L481.1 528.2L477.3 530.1L473.5 536.3L471.6 539.2L468.7 536.8L467.3 531.1L462.0 530.6L458.2 531.5L452.5 531.1L443.9 531.5L439.1 533.5L432.9 529.6L432.4 525.8L439.1 525.8L448.6 526.8L456.3 527.2L459.6 525.3L455.3 521.5L453.4 515.8L448.6 513.4Z" fill="#e6e6e6"/>
<path d="M525.0 527.2L534.6 526.8L544.1 527.7L546.5 530.6L543.7 533.9L534.6 534.4L526.0 534.4Z" fill="#e6e6e6"/>
<path d="M381.3 447.7L386.1 441.0L391.0 445.8L393.9 459.3L390.0 460.3L385.2 453.5Z" fill="#e6e6e6"/>
<path d="M596.6 626.7L607.2 625.3L607.2 635.5L594.1 636.3Z" fill="#e6e6e6"/>
<path d="M676.9 119.0L675.8 123.2L672.2 127.3L683.6 130.4L689.8 127.8L701.6 131.4L698.5 141.2L707.8 139.1L709.4 146.9L713.0 153.6L707.8 165.5L699.0 165.5L693.4 162.4L694.9 153.6L692.8 151.0L676.9 162.4L670.2 161.8L678.4 155.7L666.0 152.6L653.6 153.6L641.3 153.6L627.3 153.1L625.8 148.9L634.0 144.3L627.9 141.2L639.7 132.4L645.4 121.9L645.9 119.0Z" fill="#e6e6e6"/>
<g clip-path="url(#wm)"><g transform="rotate(-33 683 476)" filter="url(#wd)"><g transform="rotate(33 683 476)"><g filter="url(#wb)" transform="translate(103.90 121.90) scale(16.08333 16.09091)"><path fill="#4294ff" d="M-5 -2h1v1h-1zM-5 -1h1v1h-1zM-5 0h2v1h-2zM-5 1h2v1h-2zM22 1h2v1h-2zM-5 4h2v1h-2zM-5 5h2v1h-2zM25 21h1v1h-1zM28 21h2v1h-2zM23 22h8v1h-8zM23 23h7v1h-7zM24 24h5v1h-5zM72 27h2v1h-2zM6 28h1v1h-1zM32 28h2v1h-2zM74 28h3v1h-3zM32 29h2v1h-2zM73 29h4v1h-4zM31 30h2v1h-2zM73 30h4v1h-4zM30 31h3v1h-3zM43 31h5v1h-5zM73 31h4v1h-4zM30 32h3v1h-3zM42 32h6v1h-6zM2 33h1v1h-1zM30 33h3v1h-3zM42 33h6v1h-6zM1 34h3v1h-3zM26 34h2v1h-2zM29 34h4v1h-4zM44 34h4v1h-4zM61 34h1v1h-1zM68 34h2v1h-2zM-1 35h6v1h-6zM26 35h4v1h-4zM44 35h3v1h-3zM50 35h2v1h-2zM60 35h3v1h-3zM67 35h4v1h-4zM-2 36h8v1h-8zM26 36h2v1h-2zM50 36h2v1h-2zM61 36h9v1h-9zM-2 37h5v1h-5zM5 37h1v1h-1zM11 37h3v1h-3zM15 37h3v1h-3zM50 37h1v1h-1zM62 37h5v1h-5zM11 38h8v1h-8zM21 38h1v1h-1zM40 38h1v1h-1zM62 38h5v1h-5zM11 39h11v1h-11zM39 39h2v1h-2zM54 39h2v1h-2zM12 40h2v1h-2zM16 40h1v1h-1zM19 40h2v1h-2zM54 40h3v1h-3zM53 41h3v1h-3zM42 42h2v1h-2zM53 42h2v1h-2zM43 43h1v1h-1zM53 43h2v1h-2zM53 44h1v1h-1zM40 45h1v1h-1zM52 45h2v1h-2zM15 46h2v1h-2zM51 46h2v1h-2zM15 47h2v1h-2zM43 47h1v1h-1zM49 47h4v1h-4zM15 48h2v1h-2zM40 48h5v1h-5zM48 48h5v1h-5z"/><path fill="#4099ff" d="M21 -2h1v1h-1zM-4 -1h1v1h-1zM-3 0h1v1h-1zM-3 1h1v1h-1zM21 1h1v1h-1zM24 1h1v1h-1zM-5 2h2v1h-2zM23 2h2v1h-2zM-5 3h3v1h-3zM-3 4h1v1h-1zM-3 5h1v1h-1zM-4 6h2v1h-2zM56 11h1v1h-1zM56 12h1v1h-1zM25 20h2v1h-2zM21 21h1v1h-1zM24 21h1v1h-1zM26 21h1v1h-1zM30 21h1v1h-1zM20 22h3v1h-3zM22 23h1v1h-1zM30 23h1v1h-1zM29 24h1v1h-1zM42 24h2v1h-2zM25 25h4v1h-4zM71 26h3v1h-3zM6 27h1v1h-1zM71 27h1v1h-1zM74 27h1v1h-1zM31 28h1v1h-1zM39 28h1v1h-1zM72 28h2v1h-2zM31 29h1v1h-1zM37 29h3v1h-3zM72 29h1v1h-1zM30 30h1v1h-1zM33 30h1v1h-1zM38 30h1v1h-1zM43 30h6v1h-6zM72 30h1v1h-1zM33 31h1v1h-1zM42 31h1v1h-1zM48 31h1v1h-1zM72 31h1v1h-1zM33 32h1v1h-1zM54 32h1v1h-1zM74 32h3v1h-3zM3 33h1v1h-1zM25 33h5v1h-5zM33 33h1v1h-1zM48 33h1v1h-1zM-5 34h5v1h-5zM25 34h1v1h-1zM28 34h1v1h-1zM33 34h2v1h-2zM43 34h1v1h-1zM48 34h1v1h-1zM50 34h3v1h-3zM60 34h1v1h-1zM62 34h1v1h-1zM67 34h1v1h-1zM70 34h1v1h-1zM-2 35h1v1h-1zM25 35h1v1h-1zM30 35h2v1h-2zM43 35h1v1h-1zM47 35h1v1h-1zM52 35h1v1h-1zM58 35h2v1h-2zM63 35h1v1h-1zM66 35h1v1h-1zM11 36h3v1h-3zM25 36h1v1h-1zM28 36h2v1h-2zM44 36h3v1h-3zM52 36h1v1h-1zM57 36h4v1h-4zM-3 37h1v1h-1zM10 37h1v1h-1zM14 37h1v1h-1zM21 37h1v1h-1zM27 37h1v1h-1zM51 37h1v1h-1zM57 37h1v1h-1zM61 37h1v1h-1zM67 37h2v1h-2zM10 38h1v1h-1zM19 38h2v1h-2zM50 38h2v1h-2zM54 38h4v1h-4zM56 39h2v1h-2zM61 39h2v1h-2zM14 40h2v1h-2zM17 40h2v1h-2zM39 40h2v1h-2zM53 40h1v1h-1zM57 40h1v1h-1zM13 41h1v1h-1zM19 41h1v1h-1zM42 41h1v1h-1zM56 41h1v1h-1zM44 42h1v1h-1zM52 42h1v1h-1zM55 42h1v1h-1zM42 43h1v1h-1zM44 43h1v1h-1zM52 43h1v1h-1zM55 43h1v1h-1zM40 44h4v1h-4zM52 44h1v1h-1zM54 44h2v1h-2zM15 45h1v1h-1zM41 45h3v1h-3zM51 45h1v1h-1zM54 45h1v1h-1zM17 46h1v1h-1zM40 46h1v1h-1zM43 46h1v1h-1zM49 46h2v1h-2zM53 46h1v1h-1zM17 47h1v1h-1zM40 47h3v1h-3zM44 47h1v1h-1zM48 47h1v1h-1zM17 48h1v1h-1zM45 48h3v1h-3z"/><path fill="#3e9bfe" d="M5 -5h1v1h-1zM21 -5h2v1h-2zM21 -4h2v1h-2zM-5 -3h1v1h-1zM21 -3h1v1h-1zM-4 -2h1v1h-1zM22 -2h1v1h-1zM-3 -1h1v1h-1zM21 -1h2v1h-2zM-2 0h1v1h-1zM21 0h2v1h-2zM-2 1h1v1h-1zM20 1h1v1h-1zM-3 2h1v1h-1zM21 2h2v1h-2zM-2 4h1v1h-1zM-2 5h1v1h-1zM-5 6h1v1h-1zM-2 6h1v1h-1zM-4 7h3v1h-3zM57 11h1v1h-1zM55 12h1v1h-1zM57 12h1v1h-1zM6 13h1v1h-1zM53 13h3v1h-3zM0 14h2v1h-2zM54 14h1v1h-1zM-2 15h4v1h-4zM35 17h1v1h-1zM35 18h1v1h-1zM26 19h1v1h-1zM-4 20h2v1h-2zM29 20h2v1h-2zM-4 21h4v1h-4zM20 21h1v1h-1zM22 21h2v1h-2zM27 21h1v1h-1zM31 21h1v1h-1zM-3 22h3v1h-3zM19 22h1v1h-1zM31 22h1v1h-1zM19 23h3v1h-3zM41 23h3v1h-3zM52 23h2v1h-2zM58 23h2v1h-2zM71 23h1v1h-1zM76 23h1v1h-1zM23 24h1v1h-1zM41 24h1v1h-1zM44 24h1v1h-1zM52 24h1v1h-1zM57 24h3v1h-3zM71 24h2v1h-2zM24 25h1v1h-1zM29 25h1v1h-1zM41 25h3v1h-3zM71 25h3v1h-3zM29 26h2v1h-2zM39 26h2v1h-2zM43 26h1v1h-1zM70 26h1v1h-1zM74 26h1v1h-1zM7 27h1v1h-1zM29 27h5v1h-5zM39 27h2v1h-2zM70 27h1v1h-1zM75 27h2v1h-2zM5 28h1v1h-1zM7 28h1v1h-1zM30 28h1v1h-1zM34 28h1v1h-1zM38 28h1v1h-1zM40 28h1v1h-1zM70 28h2v1h-2zM5 29h1v1h-1zM30 29h1v1h-1zM34 29h1v1h-1zM43 29h3v1h-3zM48 29h2v1h-2zM69 29h2v1h-2zM37 30h1v1h-1zM39 30h1v1h-1zM49 30h1v1h-1zM67 30h5v1h-5zM29 31h1v1h-1zM34 31h1v1h-1zM54 31h1v1h-1zM69 31h3v1h-3zM27 32h3v1h-3zM34 32h1v1h-1zM41 32h1v1h-1zM48 32h1v1h-1zM53 32h1v1h-1zM70 32h1v1h-1zM73 32h1v1h-1zM1 33h1v1h-1zM34 33h2v1h-2zM41 33h1v1h-1zM51 33h4v1h-4zM57 33h2v1h-2zM60 33h2v1h-2zM68 33h3v1h-3zM74 33h3v1h-3zM0 34h1v1h-1zM4 34h1v1h-1zM24 34h1v1h-1zM35 34h1v1h-1zM42 34h1v1h-1zM49 34h1v1h-1zM57 34h3v1h-3zM63 34h1v1h-1zM71 34h1v1h-1zM74 34h2v1h-2zM-3 35h1v1h-1zM5 35h1v1h-1zM48 35h2v1h-2zM57 35h1v1h-1zM64 35h1v1h-1zM-3 36h1v1h-1zM6 36h1v1h-1zM10 36h1v1h-1zM14 36h4v1h-4zM43 36h1v1h-1zM47 36h1v1h-1zM49 36h1v1h-1zM56 36h1v1h-1zM-5 37h2v1h-2zM6 37h1v1h-1zM18 37h1v1h-1zM44 37h3v1h-3zM49 37h1v1h-1zM52 37h5v1h-5zM58 37h1v1h-1zM9 38h1v1h-1zM41 38h1v1h-1zM52 38h2v1h-2zM58 38h1v1h-1zM61 38h1v1h-1zM67 38h1v1h-1zM41 39h1v1h-1zM53 39h1v1h-1zM58 39h3v1h-3zM41 40h1v1h-1zM14 41h5v1h-5zM40 41h2v1h-2zM43 41h1v1h-1zM52 41h1v1h-1zM18 42h1v1h-1zM41 42h1v1h-1zM51 42h1v1h-1zM40 43h2v1h-2zM45 43h3v1h-3zM51 43h1v1h-1zM44 44h1v1h-1zM46 44h2v1h-2zM51 44h1v1h-1zM16 45h2v1h-2zM44 45h1v1h-1zM48 45h3v1h-3zM55 45h1v1h-1zM41 46h2v1h-2zM44 46h1v1h-1zM48 46h1v1h-1zM54 46h1v1h-1zM56 46h1v1h-1zM45 47h3v1h-3zM53 47h1v1h-1z"/><path fill="#3ba0fd" d="M1 -5h4v1h-4zM6 -5h1v1h-1zM23 -5h1v1h-1zM0 -4h3v1h-3zM5 -4h1v1h-1zM20 -4h1v1h-1zM-4 -3h1v1h-1zM0 -3h1v1h-1zM20 -3h1v1h-1zM22 -3h1v1h-1zM-3 -2h2v1h-2zM20 -2h1v1h-1zM-2 -1h1v1h-1zM20 -1h1v1h-1zM23 -1h1v1h-1zM-1 0h1v1h-1zM20 0h1v1h-1zM23 0h1v1h-1zM25 1h1v1h-1zM-2 2h1v1h-1zM20 2h1v1h-1zM25 2h1v1h-1zM-2 3h1v1h-1zM-1 5h1v1h-1zM-1 6h1v1h-1zM-4 8h2v1h-2zM-4 9h1v1h-1zM-4 10h1v1h-1zM5 12h4v1h-4zM13 12h1v1h-1zM-1 13h3v1h-3zM5 13h1v1h-1zM7 13h1v1h-1zM56 13h1v1h-1zM-2 14h2v1h-2zM2 14h1v1h-1zM6 14h1v1h-1zM53 14h1v1h-1zM55 14h1v1h-1zM-3 15h1v1h-1zM2 15h1v1h-1zM36 15h2v1h-2zM-4 16h7v1h-7zM32 16h5v1h-5zM46 16h1v1h-1zM32 17h3v1h-3zM36 17h1v1h-1zM26 18h2v1h-2zM30 18h5v1h-5zM-4 19h1v1h-1zM25 19h1v1h-1zM27 19h1v1h-1zM29 19h4v1h-4zM52 19h1v1h-1zM-2 20h1v1h-1zM21 20h1v1h-1zM24 20h1v1h-1zM27 20h2v1h-2zM31 20h1v1h-1zM69 20h2v1h-2zM-5 21h1v1h-1zM0 21h1v1h-1zM19 21h1v1h-1zM69 21h3v1h-3zM-4 22h1v1h-1zM0 22h1v1h-1zM17 22h2v1h-2zM32 22h3v1h-3zM42 22h1v1h-1zM51 22h2v1h-2zM69 22h4v1h-4zM76 22h1v1h-1zM-2 23h3v1h-3zM18 23h1v1h-1zM31 23h4v1h-4zM44 23h1v1h-1zM51 23h1v1h-1zM57 23h1v1h-1zM60 23h1v1h-1zM68 23h3v1h-3zM72 23h1v1h-1zM30 24h1v1h-1zM53 24h1v1h-1zM56 24h1v1h-1zM60 24h1v1h-1zM69 24h2v1h-2zM73 24h1v1h-1zM76 24h1v1h-1zM13 25h1v1h-1zM30 25h1v1h-1zM39 25h2v1h-2zM44 25h1v1h-1zM56 25h2v1h-2zM69 25h2v1h-2zM74 25h1v1h-1zM13 26h1v1h-1zM27 26h2v1h-2zM31 26h1v1h-1zM41 26h2v1h-2zM44 26h1v1h-1zM69 26h1v1h-1zM75 26h2v1h-2zM41 27h1v1h-1zM43 27h2v1h-2zM47 27h1v1h-1zM69 27h1v1h-1zM29 28h1v1h-1zM37 28h1v1h-1zM43 28h3v1h-3zM47 28h2v1h-2zM65 28h2v1h-2zM69 28h1v1h-1zM6 29h1v1h-1zM29 29h1v1h-1zM35 29h2v1h-2zM40 29h1v1h-1zM46 29h2v1h-2zM50 29h1v1h-1zM65 29h4v1h-4zM71 29h1v1h-1zM29 30h1v1h-1zM34 30h1v1h-1zM36 30h1v1h-1zM42 30h1v1h-1zM66 30h1v1h-1zM27 31h2v1h-2zM35 31h1v1h-1zM38 31h2v1h-2zM41 31h1v1h-1zM53 31h1v1h-1zM67 31h2v1h-2zM2 32h2v1h-2zM26 32h1v1h-1zM35 32h1v1h-1zM39 32h2v1h-2zM52 32h1v1h-1zM55 32h1v1h-1zM57 32h2v1h-2zM68 32h2v1h-2zM71 32h2v1h-2zM-5 33h3v1h-3zM4 33h1v1h-1zM24 33h1v1h-1zM40 33h1v1h-1zM49 33h2v1h-2zM55 33h2v1h-2zM59 33h1v1h-1zM62 33h1v1h-1zM71 33h3v1h-3zM23 34h1v1h-1zM40 34h2v1h-2zM53 34h1v1h-1zM56 34h1v1h-1zM72 34h2v1h-2zM-5 35h2v1h-2zM10 35h2v1h-2zM13 35h6v1h-6zM24 35h1v1h-1zM41 35h2v1h-2zM53 35h1v1h-1zM56 35h1v1h-1zM65 35h1v1h-1zM-5 36h2v1h-2zM9 36h1v1h-1zM18 36h1v1h-1zM42 36h1v1h-1zM48 36h1v1h-1zM53 36h1v1h-1zM9 37h1v1h-1zM19 37h2v1h-2zM41 37h1v1h-1zM43 37h1v1h-1zM47 37h2v1h-2zM59 37h2v1h-2zM6 38h3v1h-3zM44 38h2v1h-2zM49 38h1v1h-1zM59 38h2v1h-2zM7 39h1v1h-1zM50 39h3v1h-3zM51 40h2v1h-2zM39 41h1v1h-1zM51 41h1v1h-1zM14 42h4v1h-4zM40 42h1v1h-1zM45 42h3v1h-3zM50 42h1v1h-1zM56 42h1v1h-1zM15 43h3v1h-3zM48 43h3v1h-3zM56 43h1v1h-1zM15 44h3v1h-3zM45 44h1v1h-1zM48 44h3v1h-3zM56 44h1v1h-1zM45 45h3v1h-3zM56 45h1v1h-1zM45 46h3v1h-3zM55 46h1v1h-1zM56 47h1v1h-1zM53 48h1v1h-1z"/><path fill="#38a5fb" d="M0 -5h1v1h-1zM20 -5h1v1h-1zM-1 -4h1v1h-1zM3 -4h2v1h-2zM6 -4h1v1h-1zM19 -4h1v1h-1zM23 -4h1v1h-1zM-3 -3h3v1h-3zM1 -3h1v1h-1zM19 -3h1v1h-1zM23 -3h1v1h-1zM-1 -2h1v1h-1zM23 -2h1v1h-1zM-1 -1h1v1h-1zM5 -1h1v1h-1zM19 0h1v1h-1zM24 0h1v1h-1zM-1 1h1v1h-1zM19 1h1v1h-1zM-1 2h1v1h-1zM-1 3h1v1h-1zM22 3h2v1h-2zM-1 4h1v1h-1zM0 6h1v1h-1zM-5 7h1v1h-1zM-1 7h2v1h-2zM-5 8h1v1h-1zM-2 8h1v1h-1zM-5 9h1v1h-1zM-3 9h1v1h-1zM-5 10h1v1h-1zM-3 10h1v1h-1zM4 10h1v1h-1zM-3 11h1v1h-1zM4 11h2v1h-2zM8 11h7v1h-7zM4 12h1v1h-1zM9 12h4v1h-4zM53 12h2v1h-2zM-2 13h1v1h-1zM2 13h3v1h-3zM8 13h1v1h-1zM10 13h3v1h-3zM52 13h1v1h-1zM57 13h1v1h-1zM-3 14h1v1h-1zM3 14h3v1h-3zM7 14h1v1h-1zM36 14h2v1h-2zM52 14h1v1h-1zM-5 15h2v1h-2zM3 15h1v1h-1zM31 15h5v1h-5zM38 15h1v1h-1zM45 15h2v1h-2zM54 15h1v1h-1zM-5 16h1v1h-1zM3 16h1v1h-1zM31 16h1v1h-1zM37 16h3v1h-3zM45 16h1v1h-1zM47 16h1v1h-1zM-5 17h4v1h-4zM1 17h3v1h-3zM26 17h6v1h-6zM41 17h2v1h-2zM45 17h3v1h-3zM-4 18h2v1h-2zM28 18h2v1h-2zM36 18h1v1h-1zM42 18h3v1h-3zM52 18h1v1h-1zM-5 19h1v1h-1zM-3 19h1v1h-1zM28 19h1v1h-1zM33 19h4v1h-4zM51 19h1v1h-1zM59 19h1v1h-1zM-5 20h1v1h-1zM-1 20h1v1h-1zM20 20h1v1h-1zM22 20h1v1h-1zM32 20h1v1h-1zM51 20h2v1h-2zM59 20h1v1h-1zM68 20h1v1h-1zM71 20h1v1h-1zM18 21h1v1h-1zM32 21h4v1h-4zM51 21h1v1h-1zM65 21h1v1h-1zM68 21h1v1h-1zM72 21h4v1h-4zM-5 22h1v1h-1zM16 22h1v1h-1zM35 22h1v1h-1zM41 22h1v1h-1zM43 22h1v1h-1zM50 22h1v1h-1zM53 22h1v1h-1zM58 22h3v1h-3zM65 22h1v1h-1zM68 22h1v1h-1zM73 22h3v1h-3zM-3 23h1v1h-1zM14 23h4v1h-4zM35 23h2v1h-2zM40 23h1v1h-1zM45 23h1v1h-1zM50 23h1v1h-1zM54 23h1v1h-1zM61 23h1v1h-1zM73 23h1v1h-1zM75 23h1v1h-1zM-2 24h1v1h-1zM13 24h2v1h-2zM18 24h3v1h-3zM22 24h1v1h-1zM31 24h3v1h-3zM35 24h4v1h-4zM40 24h1v1h-1zM45 24h1v1h-1zM51 24h1v1h-1zM54 24h2v1h-2zM61 24h1v1h-1zM68 24h1v1h-1zM74 24h2v1h-2zM12 25h1v1h-1zM14 25h1v1h-1zM23 25h1v1h-1zM31 25h1v1h-1zM36 25h3v1h-3zM45 25h1v1h-1zM53 25h3v1h-3zM58 25h4v1h-4zM68 25h1v1h-1zM75 25h2v1h-2zM7 26h1v1h-1zM12 26h1v1h-1zM24 26h3v1h-3zM32 26h1v1h-1zM36 26h3v1h-3zM45 26h4v1h-4zM55 26h2v1h-2zM60 26h3v1h-3zM67 26h2v1h-2zM8 27h1v1h-1zM28 27h1v1h-1zM34 27h1v1h-1zM37 27h2v1h-2zM42 27h1v1h-1zM45 27h2v1h-2zM48 27h1v1h-1zM66 27h3v1h-3zM8 28h4v1h-4zM35 28h2v1h-2zM41 28h2v1h-2zM46 28h1v1h-1zM49 28h1v1h-1zM57 28h3v1h-3zM67 28h2v1h-2zM7 29h1v1h-1zM28 29h1v1h-1zM41 29h2v1h-2zM51 29h1v1h-1zM56 29h3v1h-3zM64 29h1v1h-1zM0 30h1v1h-1zM4 30h2v1h-2zM27 30h2v1h-2zM35 30h1v1h-1zM40 30h2v1h-2zM50 30h5v1h-5zM57 30h2v1h-2zM65 30h1v1h-1zM3 31h2v1h-2zM26 31h1v1h-1zM36 31h2v1h-2zM40 31h1v1h-1zM49 31h1v1h-1zM52 31h1v1h-1zM55 31h1v1h-1zM57 31h3v1h-3zM66 31h1v1h-1zM4 32h1v1h-1zM25 32h1v1h-1zM36 32h1v1h-1zM38 32h1v1h-1zM56 32h1v1h-1zM59 32h3v1h-3zM67 32h1v1h-1zM-2 33h1v1h-1zM23 33h1v1h-1zM36 33h1v1h-1zM39 33h1v1h-1zM63 33h1v1h-1zM67 33h1v1h-1zM5 34h1v1h-1zM17 34h1v1h-1zM22 34h1v1h-1zM36 34h1v1h-1zM39 34h1v1h-1zM54 34h2v1h-2zM64 34h1v1h-1zM66 34h1v1h-1zM76 34h1v1h-1zM6 35h1v1h-1zM9 35h1v1h-1zM12 35h1v1h-1zM22 35h2v1h-2zM7 36h1v1h-1zM21 36h1v1h-1zM23 36h1v1h-1zM54 36h2v1h-2zM7 37h2v1h-2zM42 37h1v1h-1zM46 38h1v1h-1zM42 40h1v1h-1zM50 40h1v1h-1zM44 41h1v1h-1zM48 41h3v1h-3zM39 42h1v1h-1zM48 42h2v1h-2zM54 47h2v1h-2zM56 48h1v1h-1z"/><path fill="#37a8fa" d="M-1 -5h1v1h-1zM7 -5h1v1h-1zM18 -5h2v1h-2zM-5 -4h2v1h-2zM-2 -4h1v1h-1zM7 -4h1v1h-1zM2 -3h1v1h-1zM4 -3h4v1h-4zM0 -2h2v1h-2zM4 -2h3v1h-3zM19 -2h1v1h-1zM0 -1h1v1h-1zM4 -1h1v1h-1zM6 -1h1v1h-1zM19 -1h1v1h-1zM24 -1h1v1h-1zM0 0h1v1h-1zM3 0h4v1h-4zM18 0h1v1h-1zM0 1h1v1h-1zM19 2h1v1h-1zM21 3h1v1h-1zM24 3h1v1h-1zM0 4h1v1h-1zM0 5h1v1h-1zM1 7h2v1h-2zM-1 8h4v1h-4zM14 8h2v1h-2zM-2 9h1v1h-1zM3 9h2v1h-2zM14 9h2v1h-2zM-2 10h1v1h-1zM3 10h1v1h-1zM5 10h1v1h-1zM8 10h7v1h-7zM-4 11h1v1h-1zM-2 11h1v1h-1zM3 11h1v1h-1zM6 11h2v1h-2zM55 11h1v1h-1zM-5 12h1v1h-1zM-3 12h5v1h-5zM3 12h1v1h-1zM14 12h1v1h-1zM58 12h1v1h-1zM-5 13h3v1h-3zM9 13h1v1h-1zM13 13h1v1h-1zM36 13h2v1h-2zM58 13h2v1h-2zM-5 14h2v1h-2zM8 14h4v1h-4zM35 14h1v1h-1zM38 14h1v1h-1zM45 14h1v1h-1zM51 14h1v1h-1zM56 14h1v1h-1zM4 15h2v1h-2zM39 15h1v1h-1zM47 15h1v1h-1zM50 15h4v1h-4zM55 15h1v1h-1zM4 16h1v1h-1zM26 16h3v1h-3zM30 16h1v1h-1zM40 16h2v1h-2zM44 16h1v1h-1zM48 16h2v1h-2zM-1 17h2v1h-2zM4 17h1v1h-1zM37 17h4v1h-4zM43 17h2v1h-2zM48 17h2v1h-2zM53 17h1v1h-1zM58 17h1v1h-1zM-5 18h1v1h-1zM-2 18h1v1h-1zM1 18h3v1h-3zM25 18h1v1h-1zM37 18h1v1h-1zM41 18h1v1h-1zM45 18h7v1h-7zM53 18h1v1h-1zM58 18h2v1h-2zM-2 19h1v1h-1zM24 19h1v1h-1zM43 19h8v1h-8zM53 19h1v1h-1zM58 19h1v1h-1zM60 19h1v1h-1zM68 19h5v1h-5zM0 20h1v1h-1zM19 20h1v1h-1zM23 20h1v1h-1zM33 20h5v1h-5zM44 20h3v1h-3zM50 20h1v1h-1zM58 20h1v1h-1zM60 20h1v1h-1zM64 20h4v1h-4zM72 20h3v1h-3zM17 21h1v1h-1zM36 21h3v1h-3zM41 21h5v1h-5zM50 21h1v1h-1zM52 21h1v1h-1zM59 21h2v1h-2zM64 21h1v1h-1zM66 21h2v1h-2zM76 21h1v1h-1zM15 22h1v1h-1zM36 22h3v1h-3zM40 22h1v1h-1zM44 22h2v1h-2zM49 22h1v1h-1zM64 22h1v1h-1zM66 22h2v1h-2zM-4 23h1v1h-1zM1 23h1v1h-1zM13 23h1v1h-1zM37 23h3v1h-3zM55 23h2v1h-2zM65 23h3v1h-3zM74 23h1v1h-1zM-3 24h1v1h-1zM-1 24h2v1h-2zM15 24h3v1h-3zM21 24h1v1h-1zM34 24h1v1h-1zM39 24h1v1h-1zM50 24h1v1h-1zM62 24h1v1h-1zM67 24h1v1h-1zM-4 25h4v1h-4zM19 25h1v1h-1zM22 25h1v1h-1zM32 25h1v1h-1zM35 25h1v1h-1zM46 25h3v1h-3zM52 25h1v1h-1zM62 25h1v1h-1zM67 25h1v1h-1zM-5 26h5v1h-5zM8 26h1v1h-1zM14 26h1v1h-1zM33 26h3v1h-3zM54 26h1v1h-1zM57 26h3v1h-3zM63 26h1v1h-1zM-5 27h8v1h-8zM9 27h5v1h-5zM27 27h1v1h-1zM35 27h2v1h-2zM54 27h10v1h-10zM65 27h1v1h-1zM-1 28h1v1h-1zM1 28h2v1h-2zM12 28h1v1h-1zM28 28h1v1h-1zM50 28h1v1h-1zM55 28h2v1h-2zM60 28h1v1h-1zM63 28h2v1h-2zM-1 29h3v1h-3zM8 29h1v1h-1zM10 29h2v1h-2zM27 29h1v1h-1zM52 29h1v1h-1zM55 29h1v1h-1zM59 29h2v1h-2zM63 29h1v1h-1zM-1 30h1v1h-1zM26 30h1v1h-1zM55 30h2v1h-2zM59 30h2v1h-2zM64 30h1v1h-1zM50 31h2v1h-2zM56 31h1v1h-1zM60 31h2v1h-2zM37 32h1v1h-1zM49 32h3v1h-3zM62 32h1v1h-1zM-1 33h2v1h-2zM37 33h2v1h-2zM10 34h7v1h-7zM18 34h1v1h-1zM38 34h1v1h-1zM19 35h1v1h-1zM21 35h1v1h-1zM37 35h1v1h-1zM54 35h2v1h-2zM8 36h1v1h-1zM19 36h2v1h-2zM42 38h2v1h-2zM47 38h2v1h-2zM42 39h4v1h-4zM49 39h1v1h-1zM43 40h1v1h-1zM49 40h1v1h-1zM47 41h1v1h-1z"/><path fill="#33adf7" d="M-5 -5h2v1h-2zM-2 -5h1v1h-1zM17 -5h1v1h-1zM24 -5h1v1h-1zM-3 -4h1v1h-1zM18 -4h1v1h-1zM24 -4h1v1h-1zM3 -3h1v1h-1zM18 -3h1v1h-1zM24 -3h1v1h-1zM2 -2h2v1h-2zM7 -2h1v1h-1zM18 -2h1v1h-1zM24 -2h1v1h-1zM1 -1h3v1h-3zM7 -1h1v1h-1zM18 -1h1v1h-1zM1 0h2v1h-2zM7 0h1v1h-1zM17 0h1v1h-1zM6 1h2v1h-2zM18 1h1v1h-1zM0 2h1v1h-1zM0 3h1v1h-1zM20 3h1v1h-1zM1 6h2v1h-2zM3 7h1v1h-1zM3 8h2v1h-2zM-1 9h4v1h-4zM5 9h1v1h-1zM8 9h2v1h-2zM11 9h3v1h-3zM-1 10h1v1h-1zM2 10h1v1h-1zM6 10h2v1h-2zM15 10h1v1h-1zM-5 11h1v1h-1zM-1 11h2v1h-2zM2 11h1v1h-1zM15 11h1v1h-1zM58 11h1v1h-1zM-4 12h1v1h-1zM2 12h1v1h-1zM52 12h1v1h-1zM59 12h2v1h-2zM45 13h1v1h-1zM51 13h1v1h-1zM60 13h1v1h-1zM12 14h1v1h-1zM34 14h1v1h-1zM44 14h1v1h-1zM46 14h1v1h-1zM50 14h1v1h-1zM57 14h3v1h-3zM6 15h6v1h-6zM40 15h1v1h-1zM44 15h1v1h-1zM48 15h2v1h-2zM59 15h1v1h-1zM24 16h2v1h-2zM29 16h1v1h-1zM42 16h2v1h-2zM50 16h5v1h-5zM58 16h2v1h-2zM24 17h2v1h-2zM50 17h3v1h-3zM57 17h1v1h-1zM59 17h1v1h-1zM-1 18h2v1h-2zM4 18h1v1h-1zM24 18h1v1h-1zM40 18h1v1h-1zM57 18h1v1h-1zM60 18h1v1h-1zM-1 19h5v1h-5zM20 19h2v1h-2zM37 19h1v1h-1zM41 19h2v1h-2zM57 19h1v1h-1zM61 19h3v1h-3zM67 19h1v1h-1zM73 19h1v1h-1zM1 20h3v1h-3zM38 20h1v1h-1zM41 20h3v1h-3zM47 20h3v1h-3zM53 20h1v1h-1zM61 20h3v1h-3zM75 20h1v1h-1zM16 21h1v1h-1zM39 21h2v1h-2zM46 21h4v1h-4zM53 21h2v1h-2zM58 21h1v1h-1zM63 21h1v1h-1zM1 22h1v1h-1zM39 22h1v1h-1zM46 22h1v1h-1zM48 22h1v1h-1zM54 22h1v1h-1zM57 22h1v1h-1zM61 22h1v1h-1zM-5 23h1v1h-1zM46 23h1v1h-1zM49 23h1v1h-1zM62 23h1v1h-1zM64 23h1v1h-1zM-5 24h2v1h-2zM1 24h1v1h-1zM12 24h1v1h-1zM46 24h4v1h-4zM66 24h1v1h-1zM-5 25h1v1h-1zM0 25h3v1h-3zM8 25h1v1h-1zM11 25h1v1h-1zM15 25h1v1h-1zM18 25h1v1h-1zM20 25h2v1h-2zM33 25h2v1h-2zM49 25h3v1h-3zM63 25h1v1h-1zM0 26h4v1h-4zM9 26h1v1h-1zM11 26h1v1h-1zM23 26h1v1h-1zM49 26h1v1h-1zM53 26h1v1h-1zM66 26h1v1h-1zM14 27h1v1h-1zM25 27h2v1h-2zM49 27h1v1h-1zM64 27h1v1h-1zM-5 28h4v1h-4zM0 28h1v1h-1zM27 28h1v1h-1zM51 28h1v1h-1zM54 28h1v1h-1zM61 28h2v1h-2zM-5 29h4v1h-4zM4 29h1v1h-1zM9 29h1v1h-1zM12 29h1v1h-1zM26 29h1v1h-1zM53 29h2v1h-2zM61 29h2v1h-2zM-5 30h4v1h-4zM6 30h1v1h-1zM25 30h1v1h-1zM61 30h3v1h-3zM0 31h1v1h-1zM5 31h1v1h-1zM25 31h1v1h-1zM62 31h2v1h-2zM65 31h1v1h-1zM1 32h1v1h-1zM5 32h1v1h-1zM24 32h1v1h-1zM63 32h1v1h-1zM66 32h1v1h-1zM5 33h1v1h-1zM22 33h1v1h-1zM64 33h1v1h-1zM66 33h1v1h-1zM6 34h1v1h-1zM9 34h1v1h-1zM21 34h1v1h-1zM37 34h1v1h-1zM65 34h1v1h-1zM7 35h2v1h-2zM20 35h1v1h-1zM46 39h3v1h-3zM44 40h1v1h-1zM48 40h1v1h-1zM54 48h2v1h-2z"/><path fill="#31aff5" d="M-3 -5h1v1h-1zM8 -5h1v1h-1zM16 -5h1v1h-1zM8 -4h1v1h-1zM17 -4h1v1h-1zM8 -3h1v1h-1zM8 -2h1v1h-1zM1 1h1v1h-1zM3 1h3v1h-3zM8 1h1v1h-1zM6 2h3v1h-3zM18 2h1v1h-1zM26 2h1v1h-1zM1 3h1v1h-1zM3 3h2v1h-2zM19 3h1v1h-1zM25 3h1v1h-1zM1 4h4v1h-4zM22 4h1v1h-1zM1 5h4v1h-4zM3 6h3v1h-3zM4 7h1v1h-1zM14 7h2v1h-2zM5 8h1v1h-1zM13 8h1v1h-1zM6 9h2v1h-2zM10 9h1v1h-1zM16 9h1v1h-1zM0 10h2v1h-2zM16 10h1v1h-1zM56 10h2v1h-2zM1 11h1v1h-1zM60 11h2v1h-2zM15 12h1v1h-1zM51 12h1v1h-1zM61 12h1v1h-1zM14 13h1v1h-1zM35 13h1v1h-1zM38 13h1v1h-1zM44 13h1v1h-1zM50 13h1v1h-1zM13 14h1v1h-1zM31 14h3v1h-3zM39 14h1v1h-1zM47 14h1v1h-1zM49 14h1v1h-1zM60 14h1v1h-1zM12 15h1v1h-1zM27 15h1v1h-1zM30 15h1v1h-1zM43 15h1v1h-1zM56 15h3v1h-3zM60 15h1v1h-1zM5 16h4v1h-4zM10 16h2v1h-2zM20 16h2v1h-2zM23 16h1v1h-1zM55 16h3v1h-3zM60 16h1v1h-1zM5 17h2v1h-2zM19 17h2v1h-2zM54 17h1v1h-1zM56 17h1v1h-1zM60 17h1v1h-1zM5 18h1v1h-1zM19 18h2v1h-2zM38 18h2v1h-2zM54 18h1v1h-1zM56 18h1v1h-1zM61 18h1v1h-1zM72 18h2v1h-2zM4 19h1v1h-1zM19 19h1v1h-1zM22 19h2v1h-2zM38 19h3v1h-3zM54 19h1v1h-1zM56 19h1v1h-1zM64 19h3v1h-3zM74 19h1v1h-1zM4 20h1v1h-1zM18 20h1v1h-1zM39 20h2v1h-2zM54 20h1v1h-1zM57 20h1v1h-1zM3 21h2v1h-2zM55 21h1v1h-1zM57 21h1v1h-1zM61 21h2v1h-2zM14 22h1v1h-1zM47 22h1v1h-1zM55 22h2v1h-2zM62 22h2v1h-2zM12 23h1v1h-1zM47 23h2v1h-2zM63 23h1v1h-1zM8 24h4v1h-4zM63 24h3v1h-3zM9 25h2v1h-2zM16 25h2v1h-2zM66 25h1v1h-1zM10 26h1v1h-1zM15 26h1v1h-1zM18 26h5v1h-5zM50 26h1v1h-1zM52 26h1v1h-1zM64 26h2v1h-2zM3 27h1v1h-1zM15 27h1v1h-1zM24 27h1v1h-1zM50 27h1v1h-1zM53 27h1v1h-1zM13 28h1v1h-1zM25 28h2v1h-2zM52 28h2v1h-2zM25 29h1v1h-1zM7 30h1v1h-1zM-4 31h2v1h-2zM-1 31h1v1h-1zM64 31h1v1h-1zM23 32h1v1h-1zM11 33h3v1h-3zM7 34h2v1h-2zM19 34h1v1h-1zM47 40h1v1h-1zM45 41h2v1h-2z"/><path fill="#2eb4f2" d="M9 -5h1v1h-1zM16 -4h1v1h-1zM17 -3h1v1h-1zM17 -2h1v1h-1zM8 -1h1v1h-1zM17 -1h1v1h-1zM25 -1h1v1h-1zM8 0h1v1h-1zM25 0h1v1h-1zM2 1h1v1h-1zM9 1h1v1h-1zM26 1h1v1h-1zM1 2h5v1h-5zM9 2h1v1h-1zM2 3h1v1h-1zM5 3h1v1h-1zM7 3h2v1h-2zM18 3h1v1h-1zM5 4h1v1h-1zM21 4h1v1h-1zM23 4h1v1h-1zM5 5h1v1h-1zM14 6h1v1h-1zM5 7h1v1h-1zM13 7h1v1h-1zM16 7h1v1h-1zM11 8h2v1h-2zM16 8h1v1h-1zM16 11h1v1h-1zM54 11h1v1h-1zM59 11h1v1h-1zM50 12h1v1h-1zM46 13h1v1h-1zM61 13h1v1h-1zM40 14h1v1h-1zM43 14h1v1h-1zM48 14h1v1h-1zM61 14h1v1h-1zM13 15h1v1h-1zM20 15h7v1h-7zM28 15h2v1h-2zM41 15h2v1h-2zM9 16h1v1h-1zM12 16h1v1h-1zM19 16h1v1h-1zM22 16h1v1h-1zM7 17h1v1h-1zM21 17h1v1h-1zM23 17h1v1h-1zM55 17h1v1h-1zM72 17h2v1h-2zM6 18h1v1h-1zM21 18h1v1h-1zM23 18h1v1h-1zM55 18h1v1h-1zM62 18h2v1h-2zM67 18h5v1h-5zM74 18h1v1h-1zM5 19h2v1h-2zM55 19h1v1h-1zM75 19h1v1h-1zM5 20h1v1h-1zM17 20h1v1h-1zM55 20h2v1h-2zM76 20h1v1h-1zM1 21h2v1h-2zM5 21h1v1h-1zM15 21h1v1h-1zM56 21h1v1h-1zM4 22h3v1h-3zM13 22h1v1h-1zM4 23h2v1h-2zM11 23h1v1h-1zM5 24h1v1h-1zM7 25h1v1h-1zM64 25h2v1h-2zM6 26h1v1h-1zM16 26h2v1h-2zM51 26h1v1h-1zM16 27h8v1h-8zM51 27h2v1h-2zM14 28h2v1h-2zM13 29h1v1h-1zM3 30h1v1h-1zM8 30h1v1h-1zM-5 31h1v1h-1zM-2 31h1v1h-1zM2 31h1v1h-1zM6 31h1v1h-1zM24 31h1v1h-1zM-5 32h2v1h-2zM6 32h1v1h-1zM22 32h1v1h-1zM64 32h2v1h-2zM6 33h1v1h-1zM10 33h1v1h-1zM14 33h4v1h-4zM21 33h1v1h-1zM65 33h1v1h-1zM20 34h1v1h-1zM45 40h1v1h-1z"/><path fill="#2cb7f0" d="M15 -5h1v1h-1zM9 -4h1v1h-1zM16 -3h1v1h-1zM25 -2h1v1h-1zM16 0h1v1h-1zM17 1h1v1h-1zM10 2h1v1h-1zM6 3h1v1h-1zM9 3h1v1h-1zM6 4h3v1h-3zM20 4h1v1h-1zM6 5h1v1h-1zM14 5h1v1h-1zM6 6h1v1h-1zM13 6h1v1h-1zM15 6h4v1h-4zM6 7h1v1h-1zM17 7h1v1h-1zM6 8h5v1h-5zM17 8h1v1h-1zM17 9h1v1h-1zM17 10h1v1h-1zM58 10h1v1h-1zM61 10h1v1h-1zM51 11h3v1h-3zM62 11h1v1h-1zM16 12h1v1h-1zM37 12h1v1h-1zM62 12h1v1h-1zM15 13h1v1h-1zM34 13h1v1h-1zM39 13h1v1h-1zM43 13h1v1h-1zM49 13h1v1h-1zM14 14h1v1h-1zM20 14h1v1h-1zM30 14h1v1h-1zM19 15h1v1h-1zM61 15h1v1h-1zM13 16h1v1h-1zM18 16h1v1h-1zM73 16h1v1h-1zM8 17h1v1h-1zM10 17h2v1h-2zM18 17h1v1h-1zM22 17h1v1h-1zM61 17h1v1h-1zM74 17h1v1h-1zM7 18h1v1h-1zM18 18h1v1h-1zM22 18h1v1h-1zM64 18h3v1h-3zM75 18h1v1h-1zM7 19h1v1h-1zM18 19h1v1h-1zM76 19h1v1h-1zM6 20h2v1h-2zM16 20h1v1h-1zM6 21h2v1h-2zM14 21h1v1h-1zM3 22h1v1h-1zM7 22h1v1h-1zM12 22h1v1h-1zM6 23h1v1h-1zM9 23h2v1h-2zM2 24h1v1h-1zM24 28h1v1h-1zM24 29h1v1h-1zM9 30h1v1h-1zM11 30h2v1h-2zM24 30h1v1h-1zM-3 32h1v1h-1zM0 32h1v1h-1zM12 32h1v1h-1zM18 33h1v1h-1zM46 40h1v1h-1z"/><path fill="#2ab9ee" d="M25 -5h1v1h-1zM15 -4h1v1h-1zM25 -4h1v1h-1zM9 -3h1v1h-1zM25 -3h1v1h-1zM9 -2h1v1h-1zM16 -2h1v1h-1zM9 -1h1v1h-1zM16 -1h1v1h-1zM9 0h1v1h-1zM10 1h1v1h-1zM10 3h1v1h-1zM26 3h1v1h-1zM18 4h2v1h-2zM24 4h1v1h-1zM7 5h1v1h-1zM13 5h1v1h-1zM18 5h1v1h-1zM7 6h1v1h-1zM7 7h1v1h-1zM11 7h2v1h-2zM18 7h1v1h-1zM55 10h1v1h-1zM59 10h2v1h-2zM17 11h1v1h-1zM50 11h1v1h-1zM36 12h1v1h-1zM45 12h1v1h-1zM16 13h1v1h-1zM33 13h1v1h-1zM40 13h1v1h-1zM47 13h1v1h-1zM62 13h1v1h-1zM15 14h1v1h-1zM19 14h1v1h-1zM21 14h1v1h-1zM41 14h2v1h-2zM14 15h1v1h-1zM14 16h1v1h-1zM61 16h1v1h-1zM72 16h1v1h-1zM74 16h1v1h-1zM9 17h1v1h-1zM12 17h2v1h-2zM71 17h1v1h-1zM75 17h1v1h-1zM8 18h1v1h-1zM14 18h1v1h-1zM76 18h1v1h-1zM14 19h1v1h-1zM17 19h1v1h-1zM14 20h2v1h-2zM11 22h1v1h-1zM7 23h2v1h-2zM4 24h1v1h-1zM16 28h3v1h-3zM21 28h3v1h-3zM14 29h1v1h-1zM1 30h1v1h-1zM10 30h1v1h-1zM7 31h1v1h-1zM23 31h1v1h-1zM-2 32h2v1h-2zM13 32h1v1h-1zM7 33h1v1h-1zM9 33h1v1h-1zM19 33h2v1h-2z"/><path fill="#27bee9" d="M15 -3h1v1h-1zM11 2h1v1h-1zM17 2h1v1h-1zM11 3h1v1h-1zM9 4h3v1h-3zM8 5h1v1h-1zM11 5h2v1h-2zM15 5h1v1h-1zM17 5h1v1h-1zM19 5h1v1h-1zM21 5h2v1h-2zM11 6h2v1h-2zM8 7h3v1h-3zM62 10h1v1h-1zM63 11h1v1h-1zM65 11h4v1h-4zM17 12h1v1h-1zM35 12h1v1h-1zM38 12h1v1h-1zM44 12h1v1h-1zM46 12h1v1h-1zM49 12h1v1h-1zM63 12h3v1h-3zM67 12h2v1h-2zM17 13h1v1h-1zM32 13h1v1h-1zM41 13h2v1h-2zM48 13h1v1h-1zM63 13h2v1h-2zM68 13h2v1h-2zM16 14h3v1h-3zM22 14h2v1h-2zM25 14h5v1h-5zM62 14h1v1h-1zM15 15h4v1h-4zM74 15h1v1h-1zM15 16h3v1h-3zM75 16h1v1h-1zM14 17h1v1h-1zM17 17h1v1h-1zM62 17h1v1h-1zM64 17h5v1h-5zM9 18h5v1h-5zM15 18h1v1h-1zM17 18h1v1h-1zM8 19h1v1h-1zM13 19h1v1h-1zM15 19h2v1h-2zM8 20h1v1h-1zM13 20h1v1h-1zM8 21h1v1h-1zM12 21h2v1h-2zM8 22h3v1h-3zM6 24h2v1h-2zM5 25h1v1h-1zM19 28h2v1h-2zM23 29h1v1h-1zM13 30h1v1h-1zM23 30h1v1h-1zM12 31h1v1h-1zM22 31h1v1h-1zM7 32h1v1h-1zM11 32h1v1h-1zM21 32h1v1h-1zM8 33h1v1h-1z"/><path fill="#25c0e7" d="M10 -5h1v1h-1zM14 -5h1v1h-1zM10 -4h1v1h-1zM14 -4h1v1h-1zM10 -3h1v1h-1zM10 -2h1v1h-1zM15 -2h1v1h-1zM10 -1h1v1h-1zM15 -1h1v1h-1zM10 0h1v1h-1zM15 0h1v1h-1zM26 0h1v1h-1zM11 1h1v1h-1zM12 2h1v1h-1zM27 2h1v1h-1zM12 3h1v1h-1zM17 3h1v1h-1zM12 4h3v1h-3zM17 4h1v1h-1zM9 5h2v1h-2zM16 5h1v1h-1zM20 5h1v1h-1zM23 5h1v1h-1zM8 6h1v1h-1zM10 6h1v1h-1zM19 6h1v1h-1zM18 8h1v1h-1zM18 9h1v1h-1zM57 9h1v1h-1zM61 9h1v1h-1zM68 9h1v1h-1zM18 10h1v1h-1zM54 10h1v1h-1zM63 10h1v1h-1zM65 10h4v1h-4zM64 11h1v1h-1zM69 11h1v1h-1zM18 12h1v1h-1zM39 12h2v1h-2zM47 12h1v1h-1zM66 12h1v1h-1zM69 12h2v1h-2zM18 13h3v1h-3zM30 13h2v1h-2zM65 13h3v1h-3zM70 13h1v1h-1zM74 13h1v1h-1zM24 14h1v1h-1zM63 14h7v1h-7zM62 15h1v1h-1zM65 15h3v1h-3zM73 15h1v1h-1zM75 15h1v1h-1zM62 16h1v1h-1zM65 16h3v1h-3zM71 16h1v1h-1zM15 17h2v1h-2zM63 17h1v1h-1zM69 17h2v1h-2zM76 17h1v1h-1zM16 18h1v1h-1zM9 19h1v1h-1zM12 19h1v1h-1zM9 20h1v1h-1zM12 20h1v1h-1zM9 21h3v1h-3zM15 29h1v1h-1zM22 29h1v1h-1zM8 31h1v1h-1zM13 31h1v1h-1zM14 32h1v1h-1z"/><path fill="#23c3e4" d="M26 -5h1v1h-1zM26 -4h1v1h-1zM14 -3h1v1h-1zM14 -2h1v1h-1zM11 -1h1v1h-1zM26 -1h1v1h-1zM11 0h1v1h-1zM12 1h1v1h-1zM16 1h1v1h-1zM27 1h1v1h-1zM13 3h1v1h-1zM27 3h1v1h-1zM15 4h1v1h-1zM25 4h1v1h-1zM9 6h1v1h-1zM19 7h1v1h-1zM68 8h1v1h-1zM71 8h2v1h-2zM56 9h1v1h-1zM58 9h3v1h-3zM62 9h1v1h-1zM65 9h3v1h-3zM69 9h4v1h-4zM51 10h1v1h-1zM53 10h1v1h-1zM64 10h1v1h-1zM69 10h2v1h-2zM72 10h1v1h-1zM18 11h1v1h-1zM49 11h1v1h-1zM70 11h1v1h-1zM73 11h3v1h-3zM41 12h3v1h-3zM48 12h1v1h-1zM71 12h5v1h-5zM21 13h1v1h-1zM29 13h1v1h-1zM71 13h3v1h-3zM75 13h2v1h-2zM70 14h2v1h-2zM73 14h3v1h-3zM63 15h2v1h-2zM68 15h5v1h-5zM64 16h1v1h-1zM68 16h3v1h-3zM10 19h2v1h-2zM10 20h2v1h-2zM5 27h1v1h-1zM14 30h1v1h-1zM22 30h1v1h-1zM8 32h1v1h-1zM10 32h1v1h-1zM20 32h1v1h-1z"/><path fill="#20c7df" d="M13 -3h1v1h-1zM26 -3h1v1h-1zM11 -2h3v1h-3zM26 -2h1v1h-1zM12 -1h3v1h-3zM12 0h1v1h-1zM14 0h1v1h-1zM13 2h1v1h-1zM16 2h1v1h-1zM14 3h1v1h-1zM16 4h1v1h-1zM20 6h2v1h-2zM66 8h2v1h-2zM69 8h2v1h-2zM73 8h1v1h-1zM63 9h1v1h-1zM73 9h1v1h-1zM52 10h1v1h-1zM71 10h1v1h-1zM73 10h4v1h-4zM71 11h2v1h-2zM76 11h1v1h-1zM19 12h2v1h-2zM34 12h1v1h-1zM76 12h1v1h-1zM22 13h1v1h-1zM26 13h3v1h-3zM72 14h1v1h-1zM76 14h1v1h-1zM76 15h1v1h-1zM63 16h1v1h-1zM76 16h1v1h-1zM3 25h1v1h-1zM16 29h1v1h-1zM21 29h1v1h-1zM9 31h1v1h-1zM21 31h1v1h-1zM9 32h1v1h-1zM15 32h1v1h-1z"/><path fill="#1fc9dd" d="M13 -5h1v1h-1zM11 -4h1v1h-1zM13 -4h1v1h-1zM11 -3h2v1h-2zM13 0h1v1h-1zM13 1h1v1h-1zM15 1h1v1h-1zM14 2h1v1h-1zM15 3h2v1h-2zM26 4h1v1h-1zM22 6h1v1h-1zM19 8h1v1h-1zM59 8h4v1h-4zM74 8h1v1h-1zM19 9h1v1h-1zM55 9h1v1h-1zM64 9h1v1h-1zM74 9h2v1h-2zM19 10h1v1h-1zM50 10h1v1h-1zM19 11h1v1h-1zM48 11h1v1h-1zM33 12h1v1h-1zM23 13h3v1h-3zM4 25h1v1h-1zM17 29h1v1h-1zM1 31h1v1h-1zM14 31h1v1h-1zM16 32h4v1h-4z"/><path fill="#1ecbda" d="M11 -5h1v1h-1zM27 -5h1v1h-1zM12 -4h1v1h-1zM27 -4h1v1h-1zM14 1h1v1h-1zM15 2h1v1h-1zM24 5h1v1h-1zM20 7h1v1h-1zM66 7h3v1h-3zM71 7h2v1h-2zM57 8h2v1h-2zM63 8h1v1h-1zM65 8h1v1h-1zM75 8h1v1h-1zM76 9h1v1h-1zM37 11h2v1h-2zM44 11h4v1h-4zM30 12h3v1h-3zM6 25h1v1h-1zM4 26h1v1h-1zM2 29h1v1h-1zM18 29h1v1h-1zM15 30h1v1h-1zM21 30h1v1h-1z"/><path fill="#1bd0d5" d="M12 -5h1v1h-1zM27 -3h1v1h-1zM28 2h1v1h-1zM23 6h1v1h-1zM60 7h1v1h-1zM65 7h1v1h-1zM69 7h2v1h-2zM73 7h1v1h-1zM64 8h1v1h-1zM76 8h1v1h-1zM54 9h1v1h-1zM49 10h1v1h-1zM20 11h1v1h-1zM36 11h1v1h-1zM39 11h5v1h-5zM21 12h1v1h-1zM29 12h1v1h-1zM2 22h1v1h-1zM19 29h2v1h-2z"/><path fill="#1ad2d2" d="M27 -2h1v1h-1zM27 -1h1v1h-1zM27 0h1v1h-1zM28 1h1v1h-1zM28 3h1v1h-1zM27 4h1v1h-1zM21 7h1v1h-1zM59 7h1v1h-1zM61 7h2v1h-2zM74 7h1v1h-1zM20 8h1v1h-1zM56 8h1v1h-1zM20 9h1v1h-1zM51 9h3v1h-3zM20 10h1v1h-1zM25 12h4v1h-4zM2 23h2v1h-2zM11 31h1v1h-1zM15 31h1v1h-1zM20 31h1v1h-1z"/><path fill="#1ad4d0" d="M25 5h1v1h-1zM66 6h3v1h-3zM71 6h1v1h-1zM22 7h1v1h-1zM58 7h1v1h-1zM63 7h2v1h-2zM75 7h2v1h-2zM50 9h1v1h-1zM48 10h1v1h-1zM35 11h1v1h-1zM22 12h3v1h-3zM4 28h1v1h-1z"/><path fill="#19d5cd" d="M28 -5h1v1h-1zM28 -4h1v1h-1zM69 6h2v1h-2zM72 6h3v1h-3zM57 7h1v1h-1zM21 8h1v1h-1zM55 8h1v1h-1zM47 10h1v1h-1zM5 26h1v1h-1zM16 30h1v1h-1zM10 31h1v1h-1zM19 31h1v1h-1z"/><path fill="#18d9c8" d="M28 -3h1v1h-1zM28 -2h1v1h-1zM26 5h1v1h-1zM73 5h3v1h-3zM24 6h1v1h-1zM65 6h1v1h-1zM75 6h2v1h-2zM49 9h1v1h-1zM40 10h3v1h-3zM46 10h1v1h-1zM21 11h1v1h-1zM25 11h6v1h-6zM34 11h1v1h-1zM3 28h1v1h-1zM20 30h1v1h-1zM16 31h1v1h-1z"/><path fill="#18dbc5" d="M28 -1h1v1h-1zM28 0h1v1h-1zM29 1h1v1h-1zM29 2h1v1h-1zM28 4h1v1h-1zM73 4h2v1h-2zM27 5h1v1h-1zM71 5h2v1h-2zM76 5h1v1h-1zM59 6h6v1h-6zM23 7h1v1h-1zM56 7h1v1h-1zM51 8h4v1h-4zM21 9h1v1h-1zM21 10h1v1h-1zM39 10h1v1h-1zM43 10h3v1h-3zM31 11h3v1h-3zM2 30h1v1h-1zM17 30h3v1h-3zM17 31h2v1h-2z"/><path fill="#18ddc2" d="M29 -2h1v1h-1zM73 -2h1v1h-1zM72 4h1v1h-1zM63 5h1v1h-1zM69 5h2v1h-2zM57 6h2v1h-2zM22 8h1v1h-1zM50 8h1v1h-1zM48 9h1v1h-1zM38 10h1v1h-1zM4 27h1v1h-1zM3 29h1v1h-1z"/><path fill="#18dec0" d="M29 -5h1v1h-1zM29 -4h1v1h-1zM29 -3h1v1h-1zM73 -3h1v1h-1zM72 -2h1v1h-1zM74 -2h1v1h-1zM29 -1h1v1h-1zM73 -1h2v1h-2zM29 0h1v1h-1zM29 3h1v1h-1zM71 4h1v1h-1zM75 4h1v1h-1zM62 5h1v1h-1zM64 5h1v1h-1zM68 5h1v1h-1zM25 6h1v1h-1zM55 7h1v1h-1zM37 10h1v1h-1zM24 11h1v1h-1z"/><path fill="#19e2bb" d="M63 -5h1v1h-1zM70 -5h3v1h-3zM70 -4h4v1h-4zM70 -3h3v1h-3zM74 -3h1v1h-1zM30 -2h1v1h-1zM71 -2h1v1h-1zM30 -1h1v1h-1zM72 -1h1v1h-1zM75 -1h2v1h-2zM73 0h4v1h-4zM30 1h1v1h-1zM64 4h2v1h-2zM76 4h1v1h-1zM28 5h1v1h-1zM56 6h1v1h-1zM49 8h1v1h-1zM42 9h1v1h-1zM47 9h1v1h-1zM26 10h2v1h-2zM36 10h1v1h-1z"/><path fill="#19e3b9" d="M64 -5h1v1h-1zM69 -5h1v1h-1zM73 -5h1v1h-1zM74 -4h1v1h-1zM30 -3h1v1h-1zM69 -3h1v1h-1zM75 -3h1v1h-1zM67 -2h4v1h-4zM75 -2h2v1h-2zM71 -1h1v1h-1zM30 0h1v1h-1zM71 0h2v1h-2zM31 1h1v1h-1zM30 2h1v1h-1zM62 4h2v1h-2zM61 5h1v1h-1zM65 5h1v1h-1zM67 5h1v1h-1zM26 6h1v1h-1zM53 7h2v1h-2zM40 9h2v1h-2zM43 9h1v1h-1zM46 9h1v1h-1zM28 10h2v1h-2zM22 11h2v1h-2zM3 24h1v1h-1z"/><path fill="#1ae4b6" d="M30 -5h1v1h-1zM62 -5h1v1h-1zM65 -5h1v1h-1zM74 -5h1v1h-1zM30 -4h2v1h-2zM62 -4h4v1h-4zM69 -4h1v1h-1zM31 -3h1v1h-1zM66 -3h3v1h-3zM76 -3h1v1h-1zM31 -2h1v1h-1zM31 -1h1v1h-1zM67 -1h4v1h-4zM31 0h1v1h-1zM72 1h5v1h-5zM65 3h2v1h-2zM73 3h1v1h-1zM29 4h1v1h-1zM66 4h1v1h-1zM70 4h1v1h-1zM57 5h4v1h-4zM66 5h1v1h-1zM27 6h1v1h-1zM55 6h1v1h-1zM24 7h1v1h-1zM51 7h2v1h-2zM48 8h1v1h-1zM22 9h1v1h-1zM39 9h1v1h-1zM44 9h2v1h-2zM25 10h1v1h-1zM30 10h1v1h-1z"/><path fill="#1ce6b4" d="M31 -5h1v1h-1zM68 -5h1v1h-1zM61 -4h1v1h-1zM66 -4h3v1h-3zM75 -4h2v1h-2zM32 -3h1v1h-1zM62 -3h2v1h-2zM65 -3h1v1h-1zM32 -2h1v1h-1zM66 -2h1v1h-1zM66 -1h1v1h-1zM32 0h1v1h-1zM64 0h7v1h-7zM65 1h1v1h-1zM71 1h1v1h-1zM31 2h1v1h-1zM65 2h2v1h-2zM62 3h3v1h-3zM72 3h1v1h-1zM74 3h1v1h-1zM61 4h1v1h-1zM56 5h1v1h-1zM50 7h1v1h-1zM23 8h1v1h-1zM38 9h1v1h-1zM35 10h1v1h-1z"/><path fill="#1de7b2" d="M61 -5h1v1h-1zM66 -5h1v1h-1zM75 -5h2v1h-2zM32 -4h1v1h-1zM33 -3h1v1h-1zM61 -3h1v1h-1zM64 -3h1v1h-1zM33 -2h1v1h-1zM64 -2h2v1h-2zM32 -1h1v1h-1zM64 -1h2v1h-2zM61 0h1v1h-1zM63 0h1v1h-1zM32 1h1v1h-1zM61 1h1v1h-1zM63 1h2v1h-2zM66 1h3v1h-3zM70 1h1v1h-1zM61 2h4v1h-4zM67 2h2v1h-2zM73 2h2v1h-2zM30 3h1v1h-1zM61 3h1v1h-1zM67 3h1v1h-1zM71 3h1v1h-1zM75 3h1v1h-1zM56 4h2v1h-2zM60 4h1v1h-1zM28 6h1v1h-1zM54 6h1v1h-1zM49 7h1v1h-1zM26 9h2v1h-2zM22 10h1v1h-1zM31 10h4v1h-4z"/><path fill="#20eaac" d="M32 -5h1v1h-1zM67 -5h1v1h-1zM60 -4h1v1h-1zM61 -2h3v1h-3zM33 -1h1v1h-1zM61 -1h3v1h-3zM33 0h1v1h-1zM60 0h1v1h-1zM62 0h1v1h-1zM60 1h1v1h-1zM62 1h1v1h-1zM69 1h1v1h-1zM32 2h1v1h-1zM60 2h1v1h-1zM69 2h1v1h-1zM72 2h1v1h-1zM60 3h1v1h-1zM58 4h2v1h-2zM29 5h1v1h-1zM55 5h1v1h-1zM53 6h1v1h-1zM25 7h3v1h-3zM41 8h3v1h-3zM47 8h1v1h-1zM37 9h1v1h-1z"/><path fill="#22ebaa" d="M60 -5h1v1h-1zM33 -4h1v1h-1zM34 -3h1v1h-1zM60 -3h1v1h-1zM34 -2h1v1h-1zM60 -2h1v1h-1zM60 -1h1v1h-1zM33 1h1v1h-1zM59 2h1v1h-1zM70 2h2v1h-2zM75 2h2v1h-2zM31 3h1v1h-1zM56 3h4v1h-4zM68 3h1v1h-1zM76 3h1v1h-1zM54 5h1v1h-1zM52 6h1v1h-1zM26 8h2v1h-2zM40 8h1v1h-1zM46 8h1v1h-1zM28 9h2v1h-2zM24 10h1v1h-1z"/><path fill="#25eca7" d="M33 -5h1v1h-1zM58 -5h2v1h-2zM34 -4h1v1h-1zM58 -4h2v1h-2zM34 -1h1v1h-1zM59 0h1v1h-1zM59 1h1v1h-1zM58 2h1v1h-1zM55 4h1v1h-1zM69 4h1v1h-1zM53 5h1v1h-1zM29 6h1v1h-1zM51 6h1v1h-1zM28 7h1v1h-1zM48 7h1v1h-1zM39 8h1v1h-1zM44 8h2v1h-2zM25 9h1v1h-1z"/><path fill="#27eea4" d="M57 -5h1v1h-1zM35 -4h1v1h-1zM57 -4h1v1h-1zM35 -3h1v1h-1zM57 -3h3v1h-3zM35 -2h1v1h-1zM57 -2h1v1h-1zM59 -2h1v1h-1zM59 -1h1v1h-1zM34 0h1v1h-1zM58 0h1v1h-1zM58 1h1v1h-1zM33 2h1v1h-1zM56 2h2v1h-2zM32 3h1v1h-1zM55 3h1v1h-1zM30 4h1v1h-1zM67 4h1v1h-1zM50 6h1v1h-1zM28 8h1v1h-1zM30 9h1v1h-1zM23 10h1v1h-1z"/><path fill="#2aefa1" d="M34 -5h2v1h-2zM56 -2h1v1h-1zM58 -2h1v1h-1zM35 -1h1v1h-1zM57 -1h2v1h-2zM57 0h1v1h-1zM57 1h1v1h-1zM55 2h1v1h-1zM70 3h1v1h-1zM54 4h1v1h-1zM52 5h1v1h-1zM49 6h1v1h-1zM42 7h1v1h-1zM24 8h2v1h-2zM38 8h1v1h-1zM23 9h1v1h-1zM31 9h1v1h-1zM33 9h1v1h-1zM36 9h1v1h-1z"/><path fill="#2cf09e" d="M36 -5h1v1h-1zM36 -4h1v1h-1zM56 -4h1v1h-1zM36 -3h1v1h-1zM56 -3h1v1h-1zM56 -1h1v1h-1zM56 0h1v1h-1zM34 1h1v1h-1zM54 1h3v1h-3zM54 2h1v1h-1zM33 3h1v1h-1zM54 3h1v1h-1zM69 3h1v1h-1zM31 4h1v1h-1zM53 4h1v1h-1zM68 4h1v1h-1zM30 5h1v1h-1zM29 7h1v1h-1zM41 7h1v1h-1zM43 7h1v1h-1zM47 7h1v1h-1zM29 8h1v1h-1zM32 9h1v1h-1zM34 9h1v1h-1z"/><path fill="#32f298" d="M56 -5h1v1h-1zM36 -2h1v1h-1zM55 -1h1v1h-1zM35 0h1v1h-1zM54 0h2v1h-2zM53 1h1v1h-1zM34 2h1v1h-1zM53 2h1v1h-1zM53 3h1v1h-1zM52 4h1v1h-1zM51 5h1v1h-1zM48 6h1v1h-1zM40 7h1v1h-1zM44 7h1v1h-1zM46 7h1v1h-1zM30 8h1v1h-1zM24 9h1v1h-1zM35 9h1v1h-1z"/><path fill="#35f394" d="M55 -2h1v1h-1zM36 -1h1v1h-1zM54 -1h1v1h-1zM53 0h1v1h-1zM52 1h1v1h-1zM52 2h1v1h-1zM52 3h1v1h-1zM32 4h1v1h-1zM50 5h1v1h-1zM30 6h1v1h-1zM42 6h1v1h-1zM30 7h1v1h-1zM39 7h1v1h-1zM45 7h1v1h-1z"/><path fill="#38f491" d="M55 -5h1v1h-1zM37 -4h1v1h-1zM55 -4h1v1h-1zM37 -3h1v1h-1zM55 -3h1v1h-1zM53 -1h1v1h-1zM34 3h1v1h-1zM51 3h1v1h-1zM33 4h1v1h-1zM51 4h1v1h-1zM49 5h1v1h-1zM41 6h1v1h-1zM43 6h1v1h-1zM47 6h1v1h-1zM31 8h3v1h-3zM37 8h1v1h-1z"/><path fill="#3cf58e" d="M37 -5h1v1h-1zM37 -2h1v1h-1zM53 -2h2v1h-2zM36 0h1v1h-1zM52 0h1v1h-1zM35 1h1v1h-1zM51 2h1v1h-1zM50 4h1v1h-1zM31 5h1v1h-1zM48 5h1v1h-1zM40 6h1v1h-1zM31 7h1v1h-1zM34 8h1v1h-1z"/><path fill="#3ff68a" d="M54 -5h1v1h-1zM54 -3h1v1h-1zM52 -2h1v1h-1zM37 -1h1v1h-1zM52 -1h1v1h-1zM51 1h1v1h-1zM35 2h1v1h-1zM50 3h1v1h-1zM34 4h1v1h-1zM49 4h1v1h-1zM32 5h2v1h-2zM41 5h2v1h-2zM47 5h1v1h-1zM31 6h1v1h-1zM44 6h1v1h-1zM46 6h1v1h-1zM32 7h2v1h-2zM38 7h1v1h-1z"/><path fill="#43f787" d="M54 -4h1v1h-1zM52 -3h2v1h-2zM50 2h1v1h-1zM35 3h1v1h-1zM41 4h2v1h-2zM47 4h2v1h-2zM43 5h1v1h-1zM46 5h1v1h-1zM32 6h2v1h-2zM45 6h1v1h-1zM34 7h1v1h-1z"/><path fill="#46f884" d="M38 -4h1v1h-1zM53 -4h1v1h-1zM38 -3h1v1h-1zM51 -3h1v1h-1zM38 -2h1v1h-1zM37 0h1v1h-1zM51 0h1v1h-1zM36 1h1v1h-1zM41 3h1v1h-1zM49 3h1v1h-1zM35 4h1v1h-1zM43 4h1v1h-1zM46 4h1v1h-1zM34 5h1v1h-1zM40 5h1v1h-1zM34 6h1v1h-1zM39 6h1v1h-1zM35 8h2v1h-2z"/><path fill="#4ef97d" d="M38 -5h1v1h-1zM53 -5h1v1h-1zM51 -4h2v1h-2zM51 -2h1v1h-1zM38 -1h1v1h-1zM51 -1h1v1h-1zM50 1h1v1h-1zM49 2h1v1h-1zM42 3h1v1h-1zM47 3h2v1h-2zM35 5h1v1h-1zM44 5h1v1h-1zM35 7h1v1h-1z"/><path fill="#52fa7a" d="M50 -5h3v1h-3zM50 -4h1v1h-1zM50 -3h1v1h-1zM37 1h1v1h-1zM36 2h1v1h-1zM47 2h2v1h-2zM36 3h1v1h-1zM40 3h1v1h-1zM43 3h1v1h-1zM46 3h1v1h-1zM40 4h1v1h-1zM44 4h1v1h-1zM45 5h1v1h-1zM35 6h1v1h-1z"/><path fill="#55fa76" d="M49 -5h1v1h-1zM50 -2h1v1h-1zM50 -1h1v1h-1zM38 0h1v1h-1zM50 0h1v1h-1zM38 1h2v1h-2zM49 1h1v1h-1zM37 2h6v1h-6zM37 3h1v1h-1zM39 3h1v1h-1zM36 4h1v1h-1zM37 7h1v1h-1z"/><path fill="#59fb73" d="M48 -5h1v1h-1zM39 -4h1v1h-1zM49 -4h1v1h-1zM39 -3h1v1h-1zM49 -3h1v1h-1zM39 -2h1v1h-1zM49 -2h1v1h-1zM39 -1h1v1h-1zM49 -1h1v1h-1zM39 0h1v1h-1zM49 0h1v1h-1zM40 1h1v1h-1zM47 1h2v1h-2zM43 2h1v1h-1zM38 3h1v1h-1zM44 3h1v1h-1zM37 4h1v1h-1zM45 4h1v1h-1zM36 5h1v1h-1zM39 5h1v1h-1z"/><path fill="#5dfc6f" d="M39 -5h1v1h-1zM47 -5h1v1h-1zM48 -4h1v1h-1zM40 -3h1v1h-1zM48 -3h1v1h-1zM48 -2h1v1h-1zM48 -1h1v1h-1zM48 0h1v1h-1zM46 2h1v1h-1zM39 4h1v1h-1zM36 6h1v1h-1zM38 6h1v1h-1zM36 7h1v1h-1z"/><path fill="#61fc6c" d="M40 -4h1v1h-1zM47 -4h1v1h-1zM41 -3h1v1h-1zM47 -3h1v1h-1zM40 -2h2v1h-2zM47 -2h1v1h-1zM40 -1h1v1h-1zM47 -1h1v1h-1zM40 0h1v1h-1zM47 0h1v1h-1zM41 1h1v1h-1zM44 2h1v1h-1zM38 4h1v1h-1zM37 5h1v1h-1z"/><path fill="#65fd69" d="M40 -5h1v1h-1zM41 -4h1v1h-1zM42 -3h1v1h-1zM42 -2h1v1h-1zM42 1h3v1h-3zM45 3h1v1h-1zM38 5h1v1h-1zM37 6h1v1h-1z"/><path fill="#69fd66" d="M42 -4h2v1h-2zM43 -3h1v1h-1zM41 -1h2v1h-2zM41 0h1v1h-1zM46 1h1v1h-1z"/><path fill="#6dfe62" d="M41 -5h4v1h-4zM44 -4h1v1h-1zM44 -3h1v1h-1zM43 -2h1v1h-1zM43 -1h1v1h-1zM42 0h3v1h-3z"/><path fill="#71fe5f" d="M44 -2h1v1h-1zM44 -1h1v1h-1zM45 2h1v1h-1z"/><path fill="#79fe59" d="M46 -5h1v1h-1zM46 -4h1v1h-1zM46 -3h1v1h-1zM46 -2h1v1h-1zM46 -1h1v1h-1zM46 0h1v1h-1z"/><path fill="#7dff56" d="M45 1h1v1h-1z"/><path fill="#80ff53" d="M45 -4h1v1h-1zM45 -3h1v1h-1zM45 -2h1v1h-1zM45 -1h1v1h-1zM45 0h1v1h-1z"/><path fill="#84ff51" d="M45 -5h1v1h-1z"/></g></g></g></g><g clip-path="url(#wl)"><g filter="url(#wb2)" transform="translate(103.90 121.90) scale(6.43333 6.43636)"><path fill="#4294ff" d="M59 -2h6v1h-6zM59 -1h6v1h-6zM59 0h6v1h-6zM55 1h1v1h-1zM59 1h9v1h-9zM54 2h3v1h-3zM59 2h11v1h-11zM54 3h4v1h-4zM59 3h12v1h-12zM55 4h2v1h-2zM58 4h6v1h-6zM66 4h7v1h-7zM57 5h5v1h-5zM67 5h6v1h-6zM57 6h4v1h-4zM68 6h4v1h-4zM58 7h2v1h-2zM76 7h3v1h-3zM76 8h3v1h-3zM176 48h6v1h-6zM175 49h7v1h-7zM174 50h8v1h-8zM177 51h5v1h-5zM174 61h3v1h-3zM174 62h3v1h-3zM173 63h4v1h-4zM173 64h4v1h-4zM173 65h4v1h-4zM173 66h4v1h-4zM174 67h3v1h-3zM174 68h3v1h-3zM175 69h1v1h-1z"/><path fill="#4099ff" d="M71 2h1v1h-1zM83 2h3v1h-3zM83 3h3v1h-3zM69 7h1v1h-1zM75 7h1v1h-1zM75 8h1v1h-1zM79 8h1v1h-1zM177 47h5v1h-5zM175 48h1v1h-1zM174 49h1v1h-1zM175 59h1v1h-1zM174 60h3v1h-3zM173 61h1v1h-1zM173 62h1v1h-1zM177 62h1v1h-1zM177 63h1v1h-1zM177 64h1v1h-1zM177 65h1v1h-1zM177 66h1v1h-1zM173 67h1v1h-1zM177 67h1v1h-1zM173 68h1v1h-1zM177 68h1v1h-1zM174 69h1v1h-1zM176 69h1v1h-1z"/><path fill="#3e9bfe" d="M65 -2h1v1h-1zM65 -1h1v1h-1zM65 0h1v1h-1zM68 1h1v1h-1zM82 2h1v1h-1zM86 2h1v1h-1zM82 3h1v1h-1zM86 3h1v1h-1zM73 5h1v1h-1zM72 6h1v1h-1zM70 7h1v1h-1zM79 7h1v1h-1zM176 47h1v1h-1zM174 48h1v1h-1zM174 58h3v1h-3zM173 59h2v1h-2zM176 59h1v1h-1zM173 60h1v1h-1zM172 61h1v1h-1zM172 62h1v1h-1zM172 63h1v1h-1zM178 64h1v1h-1zM178 65h1v1h-1zM178 66h1v1h-1zM178 67h1v1h-1zM178 68h1v1h-1z"/><path fill="#3ba0fd" d="M66 -2h1v1h-1zM66 -1h1v1h-1zM66 0h1v1h-1zM69 1h1v1h-1zM72 2h1v1h-1zM81 2h1v1h-1zM81 3h1v1h-1zM82 4h4v1h-4zM77 9h1v1h-1zM-2 12h3v1h-3zM-2 13h3v1h-3zM-2 14h3v1h-3zM-2 15h3v1h-3zM-2 16h3v1h-3zM-2 17h3v1h-3zM-2 18h3v1h-3zM-2 19h3v1h-3zM-2 20h3v1h-3zM-2 37h5v1h-5zM-2 38h6v1h-6zM-2 39h7v1h-7zM-2 40h7v1h-7zM-2 41h6v1h-6zM175 47h1v1h-1zM173 49h1v1h-1zM174 57h2v1h-2zM173 58h1v1h-1zM172 59h1v1h-1zM171 60h2v1h-2zM171 61h1v1h-1zM171 62h1v1h-1zM179 64h3v1h-3zM179 65h3v1h-3zM179 66h3v1h-3zM179 67h3v1h-3zM179 68h3v1h-3z"/><path fill="#38a5fb" d="M9 -2h3v1h-3zM9 -1h3v1h-3zM9 0h3v1h-3zM9 1h1v1h-1zM70 1h1v1h-1zM83 1h3v1h-3zM73 2h1v1h-1zM87 2h1v1h-1zM74 3h1v1h-1zM80 3h1v1h-1zM87 3h1v1h-1zM81 4h1v1h-1zM86 4h1v1h-1zM74 5h1v1h-1zM73 6h1v1h-1zM76 6h2v1h-2zM71 7h1v1h-1zM74 7h1v1h-1zM69 8h1v1h-1zM76 9h1v1h-1zM1 12h2v1h-2zM1 13h2v1h-2zM1 14h2v1h-2zM1 15h2v1h-2zM1 16h2v1h-2zM1 17h2v1h-2zM1 18h2v1h-2zM1 19h1v1h-1zM1 20h1v1h-1zM-2 21h4v1h-4zM39 21h1v1h-1zM-2 22h4v1h-4zM38 22h2v1h-2zM-2 23h3v1h-3zM37 23h3v1h-3zM-2 24h3v1h-3zM37 24h3v1h-3zM38 25h1v1h-1zM-2 33h3v1h-3zM-2 34h6v1h-6zM-2 35h8v1h-8zM-2 36h9v1h-9zM3 37h2v1h-2zM177 46h5v1h-5zM174 47h1v1h-1zM173 48h1v1h-1zM172 49h1v1h-1zM172 50h1v1h-1zM170 61h1v1h-1z"/><path fill="#37a8fa" d="M67 -2h1v1h-1zM67 -1h1v1h-1zM67 0h1v1h-1zM10 1h2v1h-2zM71 1h1v1h-1zM82 1h1v1h-1zM86 1h1v1h-1zM10 2h2v1h-2zM80 2h1v1h-1zM79 3h1v1h-1zM80 4h1v1h-1zM87 4h1v1h-1zM74 6h2v1h-2zM78 6h1v1h-1zM72 7h2v1h-2zM74 8h1v1h-1zM78 9h1v1h-1zM3 13h1v1h-1zM3 14h1v1h-1zM3 15h1v1h-1zM3 16h1v1h-1zM3 17h1v1h-1zM37 19h4v1h-4zM39 20h3v1h-3zM2 21h1v1h-1zM40 21h2v1h-2zM2 22h1v1h-1zM40 22h2v1h-2zM1 23h1v1h-1zM4 23h1v1h-1zM40 23h2v1h-2zM1 24h1v1h-1zM40 24h1v1h-1zM-2 25h6v1h-6zM39 25h1v1h-1zM-2 26h5v1h-5zM11 26h2v1h-2zM-2 27h5v1h-5zM9 27h5v1h-5zM-2 28h5v1h-5zM8 28h5v1h-5zM-2 29h5v1h-5zM7 29h3v1h-3zM-2 30h12v1h-12zM-2 31h11v1h-11zM-2 32h11v1h-11zM1 33h7v1h-7zM4 34h4v1h-4zM6 35h2v1h-2zM175 46h2v1h-2zM173 47h1v1h-1zM172 48h1v1h-1zM171 49h1v1h-1zM171 50h1v1h-1zM170 51h2v1h-2z"/><path fill="#33adf7" d="M68 -2h1v1h-1zM68 -1h1v1h-1zM68 0h1v1h-1zM12 1h1v1h-1zM81 1h1v1h-1zM74 2h1v1h-1zM75 3h1v1h-1zM88 3h1v1h-1zM79 4h1v1h-1zM12 5h4v1h-4zM75 5h1v1h-1zM8 6h6v1h-6zM79 6h1v1h-1zM7 7h4v1h-4zM6 8h3v1h-3zM70 8h1v1h-1zM6 9h2v1h-2zM68 9h1v1h-1zM6 10h2v1h-2zM48 10h1v1h-1zM6 11h1v1h-1zM6 12h1v1h-1zM6 13h1v1h-1zM6 14h1v1h-1zM37 18h5v1h-5zM35 19h2v1h-2zM41 19h2v1h-2zM34 20h1v1h-1zM42 20h1v1h-1zM7 21h2v1h-2zM42 21h1v1h-1zM5 22h5v1h-5zM42 22h1v1h-1zM5 23h7v1h-7zM4 24h9v1h-9zM4 25h10v1h-10zM3 26h8v1h-8zM3 27h6v1h-6zM3 28h5v1h-5zM3 29h4v1h-4zM174 46h1v1h-1zM172 47h1v1h-1zM171 48h1v1h-1zM170 49h1v1h-1zM169 50h2v1h-2z"/><path fill="#31aff5" d="M72 1h1v1h-1zM87 1h1v1h-1zM75 2h1v1h-1zM88 2h1v1h-1zM15 4h1v1h-1zM16 5h1v1h-1zM76 5h1v1h-1zM78 5h8v1h-8zM14 6h3v1h-3zM11 7h6v1h-6zM80 7h1v1h-1zM9 8h6v1h-6zM73 8h1v1h-1zM8 9h5v1h-5zM75 9h1v1h-1zM8 10h4v1h-4zM47 10h1v1h-1zM7 11h4v1h-4zM49 11h1v1h-1zM7 12h4v1h-4zM7 13h3v1h-3zM7 14h3v1h-3zM7 15h3v1h-3zM7 16h3v1h-3zM8 17h3v1h-3zM39 17h3v1h-3zM8 18h3v1h-3zM35 18h2v1h-2zM42 18h1v1h-1zM9 19h3v1h-3zM33 19h2v1h-2zM43 19h1v1h-1zM9 20h4v1h-4zM32 20h2v1h-2zM43 20h1v1h-1zM9 21h3v1h-3zM31 21h2v1h-2zM43 21h1v1h-1zM10 22h2v1h-2zM18 22h3v1h-3zM29 22h1v1h-1zM22 23h3v1h-3zM175 45h7v1h-7zM173 46h1v1h-1zM171 47h1v1h-1zM169 48h2v1h-2zM169 49h1v1h-1z"/><path fill="#2eb4f2" d="M20 -2h1v1h-1zM69 -2h1v1h-1zM83 -2h2v1h-2zM20 -1h1v1h-1zM69 -1h1v1h-1zM83 -1h2v1h-2zM20 0h1v1h-1zM69 0h1v1h-1zM83 0h2v1h-2zM41 1h1v1h-1zM73 1h1v1h-1zM76 2h1v1h-1zM16 4h1v1h-1zM88 4h1v1h-1zM17 5h1v1h-1zM86 5h1v1h-1zM17 6h1v1h-1zM80 6h1v1h-1zM17 7h3v1h-3zM15 8h5v1h-5zM71 8h2v1h-2zM80 8h1v1h-1zM13 9h6v1h-6zM69 9h1v1h-1zM12 10h5v1h-5zM46 10h1v1h-1zM67 10h1v1h-1zM11 11h5v1h-5zM48 11h1v1h-1zM11 12h4v1h-4zM10 13h4v1h-4zM10 14h4v1h-4zM10 15h4v1h-4zM10 16h4v1h-4zM11 17h3v1h-3zM37 17h2v1h-2zM42 17h2v1h-2zM11 18h4v1h-4zM34 18h1v1h-1zM43 18h1v1h-1zM12 19h4v1h-4zM32 19h1v1h-1zM13 20h6v1h-6zM30 20h2v1h-2zM15 21h8v1h-8zM28 21h3v1h-3zM21 22h5v1h-5zM173 45h2v1h-2zM171 46h2v1h-2zM170 47h1v1h-1z"/><path fill="#2cb7f0" d="M21 -2h1v1h-1zM70 -2h1v1h-1zM82 -2h1v1h-1zM85 -2h1v1h-1zM21 -1h1v1h-1zM70 -1h1v1h-1zM82 -1h1v1h-1zM85 -1h1v1h-1zM21 0h1v1h-1zM70 0h1v1h-1zM82 0h1v1h-1zM85 0h1v1h-1zM40 1h1v1h-1zM74 1h1v1h-1zM88 1h1v1h-1zM42 2h1v1h-1zM89 3h1v1h-1zM18 6h1v1h-1zM20 7h1v1h-1zM20 8h3v1h-3zM19 9h3v1h-3zM79 9h1v1h-1zM17 10h4v1h-4zM45 10h1v1h-1zM68 10h1v1h-1zM16 11h4v1h-4zM46 11h2v1h-2zM66 11h1v1h-1zM15 12h4v1h-4zM50 12h1v1h-1zM14 13h5v1h-5zM51 13h1v1h-1zM14 14h4v1h-4zM14 15h4v1h-4zM14 16h4v1h-4zM42 16h3v1h-3zM14 17h5v1h-5zM36 17h1v1h-1zM44 17h2v1h-2zM15 18h5v1h-5zM32 18h2v1h-2zM16 19h5v1h-5zM30 19h2v1h-2zM19 20h5v1h-5zM26 20h4v1h-4zM23 21h5v1h-5zM45 21h1v1h-1zM45 22h1v1h-1zM175 44h1v1h-1zM178 44h4v1h-4z"/><path fill="#2ab9ee" d="M22 -2h2v1h-2zM71 -2h1v1h-1zM86 -2h1v1h-1zM22 -1h2v1h-2zM71 -1h1v1h-1zM86 -1h1v1h-1zM22 0h2v1h-2zM71 0h1v1h-1zM86 0h1v1h-1zM75 1h3v1h-3zM41 2h1v1h-1zM89 2h1v1h-1zM42 3h1v1h-1zM17 4h1v1h-1zM87 5h1v1h-1zM81 6h1v1h-1zM21 7h3v1h-3zM23 8h2v1h-2zM22 9h2v1h-2zM70 9h1v1h-1zM74 9h1v1h-1zM21 10h3v1h-3zM44 10h1v1h-1zM20 11h4v1h-4zM44 11h2v1h-2zM19 12h4v1h-4zM19 13h4v1h-4zM50 13h1v1h-1zM18 14h4v1h-4zM50 14h3v1h-3zM18 15h4v1h-4zM18 16h4v1h-4zM41 16h1v1h-1zM45 16h2v1h-2zM19 17h4v1h-4zM35 17h1v1h-1zM20 18h3v1h-3zM30 18h2v1h-2zM21 19h3v1h-3zM26 19h4v1h-4zM24 20h2v1h-2zM46 20h1v1h-1z"/><path fill="#27bee9" d="M24 -2h1v1h-1zM72 -2h1v1h-1zM87 -2h1v1h-1zM24 -1h1v1h-1zM72 -1h1v1h-1zM87 -1h1v1h-1zM24 0h1v1h-1zM72 0h1v1h-1zM87 0h1v1h-1zM22 1h1v1h-1zM40 2h1v1h-1zM16 3h1v1h-1zM41 3h1v1h-1zM89 4h1v1h-1zM18 5h1v1h-1zM19 6h1v1h-1zM82 6h1v1h-1zM24 7h1v1h-1zM24 9h1v1h-1zM71 9h1v1h-1zM24 10h1v1h-1zM43 10h1v1h-1zM69 10h1v1h-1zM43 11h1v1h-1zM67 11h1v1h-1zM23 12h1v1h-1zM49 12h1v1h-1zM23 13h1v1h-1zM22 14h2v1h-2zM49 14h1v1h-1zM22 15h2v1h-2zM28 15h2v1h-2zM46 15h5v1h-5zM22 16h2v1h-2zM40 16h1v1h-1zM47 16h1v1h-1zM23 17h1v1h-1zM27 17h1v1h-1zM34 17h1v1h-1zM23 18h1v1h-1zM26 18h4v1h-4zM24 19h2v1h-2zM46 21h1v1h-1zM46 22h1v1h-1zM46 23h1v1h-1zM46 24h1v1h-1zM59 75h1v1h-1zM58 76h2v1h-2zM58 77h1v1h-1zM57 78h1v1h-1z"/><path fill="#25c0e7" d="M25 -2h1v1h-1zM35 -2h1v1h-1zM73 -2h1v1h-1zM25 -1h1v1h-1zM35 -1h1v1h-1zM73 -1h1v1h-1zM25 0h1v1h-1zM35 0h1v1h-1zM73 0h1v1h-1zM21 1h1v1h-1zM23 1h3v1h-3zM89 1h1v1h-1zM39 2h1v1h-1zM90 3h1v1h-1zM88 5h1v1h-1zM83 6h2v1h-2zM72 9h2v1h-2zM42 10h1v1h-1zM24 11h1v1h-1zM28 11h2v1h-2zM41 11h2v1h-2zM68 11h1v1h-1zM28 12h3v1h-3zM40 12h4v1h-4zM28 13h6v1h-6zM38 13h2v1h-2zM49 13h1v1h-1zM28 14h6v1h-6zM48 14h1v1h-1zM27 15h1v1h-1zM30 15h3v1h-3zM45 15h1v1h-1zM51 15h1v1h-1zM27 16h4v1h-4zM39 16h1v1h-1zM26 17h1v1h-1zM28 17h3v1h-3zM32 17h2v1h-2zM24 18h2v1h-2zM47 20h1v1h-1zM47 21h1v1h-1zM47 22h1v1h-1zM46 27h1v1h-1zM46 28h1v1h-1zM57 73h1v1h-1zM57 74h2v1h-2zM58 75h1v1h-1zM57 76h1v1h-1zM57 77h1v1h-1zM56 78h1v1h-1z"/><path fill="#23c3e4" d="M26 -2h1v1h-1zM34 -2h1v1h-1zM74 -2h4v1h-4zM88 -2h1v1h-1zM26 -1h1v1h-1zM34 -1h1v1h-1zM74 -1h4v1h-4zM88 -1h1v1h-1zM26 0h1v1h-1zM34 0h1v1h-1zM74 0h4v1h-4zM88 0h1v1h-1zM26 1h2v1h-2zM90 2h1v1h-1zM40 3h1v1h-1zM41 4h1v1h-1zM20 6h1v1h-1zM85 6h1v1h-1zM25 7h1v1h-1zM25 8h1v1h-1zM28 9h2v1h-2zM28 10h3v1h-3zM41 10h1v1h-1zM70 10h1v1h-1zM30 11h3v1h-3zM39 11h2v1h-2zM24 12h1v1h-1zM31 12h3v1h-3zM38 12h2v1h-2zM44 12h1v1h-1zM48 12h1v1h-1zM66 12h1v1h-1zM37 13h1v1h-1zM40 13h1v1h-1zM27 14h1v1h-1zM34 14h1v1h-1zM33 15h1v1h-1zM31 16h1v1h-1zM24 17h1v1h-1zM31 17h1v1h-1zM48 20h1v1h-1zM48 21h1v1h-1zM47 23h1v1h-1zM47 24h1v1h-1zM47 25h1v1h-1zM47 26h1v1h-1zM47 27h1v1h-1zM47 28h1v1h-1zM47 29h1v1h-1zM56 73h1v1h-1zM57 75h1v1h-1zM56 77h1v1h-1z"/><path fill="#20c7df" d="M27 -2h1v1h-1zM32 -2h2v1h-2zM27 -1h1v1h-1zM32 -1h2v1h-2zM27 0h1v1h-1zM32 0h2v1h-2zM28 1h2v1h-2zM33 1h3v1h-3zM18 4h1v1h-1zM90 4h1v1h-1zM89 5h1v1h-1zM22 6h2v1h-2zM86 6h1v1h-1zM28 8h2v1h-2zM41 8h1v1h-1zM30 9h1v1h-1zM41 9h1v1h-1zM31 10h1v1h-1zM39 10h2v1h-2zM71 10h1v1h-1zM38 11h1v1h-1zM69 11h1v1h-1zM37 12h1v1h-1zM45 12h3v1h-3zM67 12h1v1h-1zM24 13h1v1h-1zM27 13h1v1h-1zM41 13h1v1h-1zM47 14h1v1h-1zM44 15h1v1h-1zM24 16h1v1h-1zM26 16h1v1h-1zM38 16h1v1h-1zM49 20h1v1h-1zM48 22h1v1h-1zM48 23h1v1h-1zM48 24h1v1h-1zM48 25h1v1h-1zM48 26h1v1h-1zM48 27h1v1h-1zM48 28h1v1h-1zM56 74h1v1h-1zM56 75h1v1h-1zM56 76h1v1h-1zM55 77h1v1h-1z"/><path fill="#1fc9dd" d="M29 -2h3v1h-3zM29 -1h3v1h-3zM29 0h3v1h-3zM30 1h3v1h-3zM26 2h9v1h-9zM17 3h1v1h-1zM21 6h1v1h-1zM24 6h1v1h-1zM87 6h1v1h-1zM40 7h1v1h-1zM40 8h1v1h-1zM31 9h1v1h-1zM39 9h2v1h-2zM32 10h1v1h-1zM38 10h1v1h-1zM33 11h1v1h-1zM27 12h1v1h-1zM68 12h1v1h-1zM34 13h1v1h-1zM48 13h1v1h-1zM24 14h1v1h-1zM37 14h1v1h-1zM24 15h1v1h-1zM34 15h1v1h-1zM43 15h1v1h-1zM32 16h1v1h-1zM25 17h1v1h-1zM49 21h1v1h-1zM49 22h1v1h-1zM49 23h1v1h-1zM49 27h1v1h-1zM55 74h1v1h-1zM55 75h1v1h-1zM55 76h1v1h-1z"/><path fill="#1ecbda" d="M89 -2h1v1h-1zM89 -1h1v1h-1zM89 0h1v1h-1zM90 1h1v1h-1zM25 2h1v1h-1zM30 3h4v1h-4zM91 3h1v1h-1zM19 5h1v1h-1zM39 7h1v1h-1zM30 8h1v1h-1zM39 8h1v1h-1zM25 9h1v1h-1zM37 9h2v1h-2zM37 10h1v1h-1zM72 10h1v1h-1zM76 10h1v1h-1zM37 11h1v1h-1zM70 11h1v1h-1zM42 13h1v1h-1zM38 14h1v1h-1zM26 15h1v1h-1zM33 16h1v1h-1zM37 16h1v1h-1zM50 20h1v1h-1zM50 21h1v1h-1zM49 24h1v1h-1z"/><path fill="#1bd0d5" d="M24 2h1v1h-1zM91 2h1v1h-1zM90 5h1v1h-1zM88 6h1v1h-1zM28 7h1v1h-1zM38 7h1v1h-1zM37 8h2v1h-2zM75 10h1v1h-1zM77 10h1v1h-1zM27 11h1v1h-1zM69 12h1v1h-1zM67 13h1v1h-1zM35 14h2v1h-2zM46 14h1v1h-1zM42 15h1v1h-1zM34 16h1v1h-1zM50 22h1v1h-1zM50 23h1v1h-1z"/><path fill="#1ad2d2" d="M29 3h1v1h-1zM32 4h1v1h-1zM91 4h1v1h-1zM25 6h1v1h-1zM37 6h1v1h-1zM26 7h1v1h-1zM37 7h1v1h-1zM27 8h1v1h-1zM27 9h1v1h-1zM27 10h1v1h-1zM33 10h1v1h-1zM78 10h1v1h-1zM71 11h1v1h-1zM34 12h1v1h-1zM70 12h1v1h-1zM36 13h1v1h-1zM43 13h1v1h-1zM47 13h1v1h-1zM68 13h1v1h-1zM39 14h1v1h-1zM41 15h1v1h-1zM25 16h1v1h-1zM35 16h2v1h-2zM51 21h1v1h-1zM51 22h1v1h-1z"/><path fill="#1ad4d0" d="M90 -2h1v1h-1zM90 -1h1v1h-1zM90 0h1v1h-1zM91 1h1v1h-1zM18 2h1v1h-1zM23 2h1v1h-1zM18 3h1v1h-1zM28 3h1v1h-1zM36 6h1v1h-1zM89 6h1v1h-1zM27 7h1v1h-1zM29 7h1v1h-1zM36 8h1v1h-1zM32 9h1v1h-1zM25 10h1v1h-1zM72 11h1v1h-1zM40 14h1v1h-1zM35 15h1v1h-1z"/><path fill="#19d5cd" d="M22 2h1v1h-1zM92 3h1v1h-1zM19 4h1v1h-1zM91 5h1v1h-1zM36 7h1v1h-1zM26 8h1v1h-1zM36 12h1v1h-1zM71 12h1v1h-1zM44 13h1v1h-1zM46 13h1v1h-1zM26 14h1v1h-1zM45 14h1v1h-1zM40 15h1v1h-1z"/><path fill="#18d9c8" d="M19 2h3v1h-3zM92 2h1v1h-1zM31 4h1v1h-1zM92 4h1v1h-1zM35 6h1v1h-1zM87 7h1v1h-1zM31 8h1v1h-1zM36 9h1v1h-1zM73 11h1v1h-1zM35 13h1v1h-1zM45 13h1v1h-1zM41 14h1v1h-1zM25 15h1v1h-1zM37 15h1v1h-1zM39 15h1v1h-1z"/><path fill="#18dbc5" d="M91 -2h1v1h-1zM91 -1h1v1h-1zM91 0h1v1h-1zM27 3h1v1h-1zM20 5h1v1h-1zM90 6h1v1h-1zM34 11h1v1h-1zM36 11h1v1h-1zM72 12h1v1h-1zM42 14h1v1h-1zM44 14h1v1h-1zM36 15h1v1h-1zM38 15h1v1h-1z"/><path fill="#18ddc2" d="M92 1h1v1h-1zM26 6h1v1h-1zM30 7h1v1h-1zM35 7h1v1h-1zM88 7h1v1h-1zM36 10h1v1h-1zM25 11h1v1h-1zM43 14h1v1h-1z"/><path fill="#18dec0" d="M19 3h1v1h-1zM93 3h1v1h-1zM30 4h1v1h-1zM92 5h1v1h-1zM34 6h1v1h-1zM91 6h1v1h-1zM26 9h1v1h-1zM26 13h1v1h-1zM25 14h1v1h-1z"/><path fill="#19e2bb" d="M93 2h1v1h-1zM26 3h1v1h-1zM93 4h1v1h-1zM32 5h1v1h-1zM89 7h1v1h-1zM25 12h1v1h-1z"/><path fill="#19e3b9" d="M92 -2h1v1h-1zM92 -1h1v1h-1zM92 0h1v1h-1zM21 5h3v1h-3zM35 8h1v1h-1zM33 9h1v1h-1zM35 12h1v1h-1zM25 13h1v1h-1z"/><path fill="#1ae4b6" d="M93 1h1v1h-1zM29 4h1v1h-1zM93 5h1v1h-1zM27 6h2v1h-2zM33 6h1v1h-1zM92 6h1v1h-1zM34 7h1v1h-1zM90 7h1v1h-1zM26 10h1v1h-1zM26 12h1v1h-1z"/><path fill="#1ce6b4" d="M25 3h1v1h-1zM94 3h1v1h-1zM20 4h1v1h-1zM24 5h1v1h-1zM32 8h1v1h-1zM88 8h1v1h-1zM34 10h1v1h-1zM26 11h1v1h-1z"/><path fill="#1de7b2" d="M93 -2h1v1h-1zM93 -1h1v1h-1zM93 0h1v1h-1zM94 2h1v1h-1zM20 3h1v1h-1zM94 4h1v1h-1zM91 7h1v1h-1z"/><path fill="#20eaac" d="M94 1h1v1h-1zM31 5h1v1h-1zM94 5h1v1h-1zM29 6h1v1h-1zM93 6h1v1h-1zM31 7h1v1h-1z"/><path fill="#22ebaa" d="M24 3h1v1h-1zM28 4h1v1h-1zM33 7h1v1h-1zM92 7h1v1h-1zM34 8h1v1h-1zM35 9h1v1h-1zM35 11h1v1h-1z"/><path fill="#25eca7" d="M95 2h1v1h-1zM21 3h1v1h-1zM95 3h1v1h-1zM95 4h1v1h-1zM25 5h1v1h-1zM32 6h1v1h-1zM33 8h1v1h-1z"/><path fill="#27eea4" d="M22 3h2v1h-2zM95 5h1v1h-1zM30 6h1v1h-1zM94 6h1v1h-1zM32 7h1v1h-1zM93 7h1v1h-1zM91 8h1v1h-1zM34 9h1v1h-1zM35 10h1v1h-1z"/><path fill="#2aefa1" d="M21 4h1v1h-1zM30 5h1v1h-1zM92 8h1v1h-1z"/><path fill="#2cf09e" d="M27 4h1v1h-1zM96 4h1v1h-1zM31 6h1v1h-1zM95 6h1v1h-1zM94 7h1v1h-1z"/><path fill="#32f298" d="M22 4h1v1h-1zM26 5h1v1h-1zM29 5h1v1h-1zM96 5h1v1h-1zM93 8h1v1h-1z"/><path fill="#35f394" d="M28 5h1v1h-1zM95 7h1v1h-1z"/><path fill="#38f491" d="M23 4h1v1h-1zM26 4h1v1h-1zM27 5h1v1h-1zM94 8h1v1h-1z"/><path fill="#3cf58e" d="M24 4h2v1h-2z"/></g></g>
<path d="M341.5 341.1L347.7 352.9M184.2 360.0L186.7 365.0L184.2 372.4L184.2 379.8L189.2 382.3M212.1 360.0L210.9 365.9L235.0 366.2L234.4 371.1L237.5 377.3L239.4 378.6M253.0 360.0L253.4 374.2M263.5 373.6L266.0 370.5L262.9 367.4L280.0 366.2M575.3 734.7L584.0 744.4L586.9 759.8L587.9 777.0M631.3 748.2L633.2 761.7L634.2 771.4L638.1 777.0M633.2 761.7L617.8 761.7L613.0 773.3L607.2 777.0M686.3 733.8L687.3 741.5L697.9 746.3L705.6 757.9L712.4 771.4L715.3 777.0M797.4 780.2L793.6 797.4L784.0 816.5L774.5 826.1L768.8 829.9M851.8 801.2L847.1 808.9L839.4 814.6L837.5 822.2L838.5 829.9M858.5 803.1L856.6 810.8L861.4 820.3L860.4 829.9M700.0 746.8L707.6 761.1L715.3 776.4L722.0 780.2M140.2 135.5L141.3 142.7L144.4 156.1L146.4 164.4L148.5 173.6L144.4 178.8L149.5 184.0L149.5 205.6L147.9 212.8L148.5 219.0L151.6 227.3L156.7 241.7L158.8 243.8L164.0 251.0L166.0 252.6M100.0 174.1L147.0 174.1M100.0 212.2L120.6 211.8L130.9 214.9L139.2 213.9L148.5 219.0M149.5 205.6L215.5 205.6M158.8 243.4L212.4 243.4M100.0 250.4L164.0 250.4M232.0 157.1L223.8 157.1L212.4 161.3L203.2 164.4L202.1 175.7L195.9 178.8L197.0 190.2L207.3 196.3L214.5 199.4L216.6 205.6L218.6 212.8L225.9 219.0L230.0 225.2L223.8 232.4L218.6 235.5L219.7 240.7L213.5 244.8L214.5 252.0M240.3 146.8L232.0 157.1L227.9 166.4L237.2 170.6L248.6 173.2L258.9 177.8L263.0 184.0L265.1 186.0L274.3 180.9L280.5 184.0L275.4 188.1L271.3 198.4L269.2 210.8L270.2 218.6L268.2 227.3L264.6 228.3M225.9 218.6L270.2 218.6M264.6 228.3L264.6 252.4M264.6 228.3L299.1 227.9L318.7 227.3L321.8 225.2M299.1 227.9L299.1 252.9M355.2 221.1L355.2 227.3M364.7 219.0L364.7 224.8L400.0 225.2M367.2 123.1L367.2 155.1L372.4 163.3L384.7 169.5L400.0 173.6M166.0 123.1L166.0 129.3M100.0 288.8L173.5 288.8L173.5 294.6L175.9 316.0L175.9 332.5L180.1 334.2L180.9 340.5L180.9 349.0L184.2 357.3L186.7 365.5L184.2 375.4L184.2 380.4M173.5 294.6L229.6 295.4L232.0 298.7L227.9 302.5L236.2 302.5M213.9 250.0L222.1 258.3L228.7 266.5L227.9 273.1L237.0 279.7L240.3 288.0L243.6 289.6L239.5 294.6L236.2 302.8L232.0 312.7L227.1 316.0L221.3 324.3L217.2 330.9L218.0 340.8L218.8 349.0L212.2 362.2L211.4 366.4L235.4 366.4L237.0 373.8L237.8 377.9L240.3 387.0M100.0 321.0L113.2 323.5L124.8 326.8L133.0 330.1L141.3 330.9L149.5 330.9L157.8 329.2L166.0 328.4L175.9 332.5M180.9 340.5L217.2 340.5M239.5 294.6L256.8 293.7L319.7 294.4M230.4 315.2L319.7 313.2M256.8 315.2L252.7 349.0L253.5 373.8M289.0 315.2L298.1 349.0L295.6 357.3L297.2 368.8L332.7 373.0L333.6 374.6L336.0 370.5L342.0 371.3M263.4 373.8L265.9 373.0L263.4 366.4L296.4 366.4M317.9 315.2L320.7 318.7M305.5 313.5L312.9 306.9L321.4 303.6M314.6 294.2L320.8 290.2M243.6 289.6L251.9 285.5L256.0 280.5L258.5 278.1L265.1 277.2L273.3 275.6L281.6 274.8L287.3 271.5L294.8 266.5L298.9 264.9L311.3 268.2L321.2 268.2M299.7 250.0L298.9 264.9M263.4 250.0L262.6 259.9L259.3 266.5L256.0 280.5M354.7 225.0L354.7 254.1L419.1 254.1M419.1 225.0L425.3 228.7L427.8 232.4L422.8 239.9L425.3 245.4L429.0 248.5L422.8 251.6L419.1 252.9L418.5 257.0M416.0 254.1L416.6 270.2L425.3 270.2M399.3 265.3L394.3 262.2L389.4 258.4L384.4 255.4L381.9 258.4L378.2 254.7L374.5 257.2L368.3 260.9L367.7 254.7M381.9 258.4L374.5 265.9L369.6 269.6L362.1 273.9L357.2 280.7L351.0 284.5L343.5 286.3L336.1 283.2L329.9 277.0L327.4 273.3L332.4 265.9L337.3 262.2L344.8 257.2L351.0 251.0L353.4 243.6L354.7 242.3M327.4 273.3L320.0 267.1M336.1 283.2L327.4 289.4L320.0 292.5M320.0 295.0L414.2 295.0M320.0 314.2L329.9 312.3L348.5 313.6L351.0 316.7L367.1 317.3L378.2 327.8M320.0 304.3L327.4 299.3L336.1 296.9L338.6 295.0M320.0 320.4L327.4 327.8L336.1 336.5L342.3 345.0M400.0 225.2L423.7 225.2L427.9 232.4L425.5 238.6M427.9 232.4L442.3 238.6M446.4 186.0L445.4 202.5L446.4 214.9L444.4 225.2L442.3 237.6M471.2 184.0L468.1 192.2L461.9 202.5L456.7 214.9M476.3 182.9L478.4 208.7L480.5 211.8M446.4 215.3L478.4 214.5L480.5 210.8M445.0 225.2L473.2 225.6L474.3 229.4M467.1 225.6L468.1 232.4M400.0 174.7L408.3 178.8L416.5 180.2L426.8 178.8L433.0 178.2L433.4 182.9M501.1 157.1L507.3 156.1L511.4 148.9L523.8 147.9L532.0 146.8M587.6 776.2L589.2 776.2L596.8 783.9L599.0 774.0L604.4 771.9L609.9 775.1L614.3 771.9L617.5 762.0M635.0 771.9L638.3 777.3L651.4 786.0L664.5 794.8L649.2 828.6" fill="none" stroke="#5c5c5c" stroke-width="1.45" stroke-linejoin="round"/>
<path d="M527.5 184.4L517.6 177.0L517.6 158.4L513.3 155.9L503.4 157.8L499.6 154.7L490.4 164.6L486.0 174.5L479.8 180.7L471.8 183.2L460.0 186.5M139.6 432.5L128.5 430.0L116.1 426.3L111.8 418.2L109.9 410.8L105.0 406.5L102.7 405.2M202.7 577.3L203.2 574.8L204.0 569.0L208.9 559.1L226.3 558.3L226.3 555.0L213.9 543.5L219.7 542.6L219.7 536.0L242.8 536.0L245.3 534.4L251.9 527.8L255.2 527.8M242.8 536.0L243.6 560.0L248.6 559.1M254.3 563.3L243.6 571.5L241.1 578.9L232.0 587.2M241.1 578.9L251.9 586.4L260.1 587.2L261.8 593.8L260.9 597.1M265.1 597.1L272.5 595.4L275.0 588.0L286.5 584.7L296.4 575.6L308.0 575.6L320.4 572.3M287.3 621.0L298.1 623.5L311.3 626.0L314.6 629.9M467.7 510.5L468.2 518.6L466.8 523.4L464.9 526.3L467.3 531.1M323.7 659.5L324.6 651.8L323.7 645.0L327.5 643.6M396.0 653.3L393.1 656.6L396.0 663.3L389.3 667.2L388.3 670.1M464.9 617.6L456.8 624.7L451.0 634.4L450.1 644.0L447.2 647.5L453.9 647.9L458.8 659.5L457.8 667.2L464.5 674.9L485.8 673.9L498.3 686.5L508.9 685.5L518.6 684.6L523.4 686.5L518.6 705.8L523.4 723.1L517.6 728.9L524.4 738.6L528.2 750.2L540.0 755.0M375.8 747.3L385.4 752.1L393.1 757.9L402.8 761.7L408.6 759.8L420.2 766.6L429.8 769.5L435.6 777.0M420.2 766.6L423.1 777.0M528.2 750.2L521.5 739.6L517.6 743.4L492.5 743.4L491.6 750.2L499.3 753.1L498.3 756.0L489.6 757.9L491.6 767.5L495.4 777.0M617.8 658.5L611.0 666.2L613.9 673.9L604.3 678.8L600.4 688.4L609.1 698.1L615.9 699.0L617.8 705.8L623.6 713.5L620.7 725.1L624.6 738.6L631.3 748.2L638.1 748.2L645.8 743.4L653.5 740.5L663.1 740.5M655.4 689.4L653.5 701.0L645.8 703.9L643.9 713.5L649.6 721.2L653.5 723.1L657.4 732.8L663.1 740.5L668.9 741.5L669.9 733.8L680.5 732.8L686.3 733.8L691.1 733.8M696.0 690.7L689.2 703.9L695.0 717.4L691.1 733.8L696.0 737.6L699.8 734.7L703.7 738.6L711.4 733.8L717.2 725.1L724.9 712.5M609.1 698.1L606.2 705.8L593.7 710.6L578.2 715.4L556.1 711.6L561.8 716.4L562.8 731.8L575.3 734.7L565.7 739.6L562.8 746.3L548.3 751.1L537.7 756.0L530.0 748.2M1169.9 490.7L1200.6 489.8L1224.7 490.7L1221.0 472.1L1224.7 465.6L1236.8 464.7L1236.8 431.3L1263.7 431.8M1200.6 489.8L1202.4 484.2L1207.1 478.6L1211.7 461.0L1230.3 446.1L1234.9 433.1L1236.8 431.3L1239.5 427.6L1243.3 419.8L1253.5 417.9L1263.7 420.5M1177.3 555.8L1183.8 553.4L1189.4 554.9L1197.8 552.1L1204.3 553.0L1217.3 560.4L1224.7 567.9L1234.0 576.2L1237.7 573.4L1240.5 567.5L1252.5 569.7L1263.7 567.5M1234.0 576.2L1235.8 588.3L1242.3 595.7L1242.9 605.0M1174.6 591.1L1189.4 590.1L1195.0 587.3L1201.5 590.1L1209.8 587.9L1211.7 591.1L1206.1 594.2L1196.8 592.9L1187.6 595.7L1174.6 595.7M1175.5 605.0L1189.4 603.1L1214.5 604.1L1230.3 606.5L1242.9 605.0L1243.3 609.6L1250.7 608.3L1263.7 611.9M1214.5 604.1L1212.6 611.5L1204.3 616.1L1196.8 621.7M1220.1 650.5L1228.4 640.3L1235.8 636.6L1247.0 636.2L1253.5 646.8L1255.3 657.0L1263.7 656.2M1242.3 677.4L1247.0 668.1L1255.3 658.8M357.1 808.8L358.3 813.7L354.6 817.4L355.3 821.7L362.6 821.7L366.9 824.1L371.2 829.0L377.4 824.7L380.4 814.9L388.4 803.8L404.4 798.9L418.5 786.0L422.2 776.8L420.9 766.4L423.4 765.2L432.6 771.9L436.3 777.4L442.4 781.7L450.4 795.3L459.6 796.7L467.0 793.0L471.9 794.6L480.0 793.4M480.0 819.8L468.2 823.5L459.6 829.0M489.8 758.8L489.8 768.6L496.4 777.3L495.3 799.1L490.9 821.0M478.9 794.3L489.8 800.2L481.1 813.3L490.9 821.0L478.9 821.0" fill="none" stroke="#111" stroke-width="2.0" stroke-linejoin="round"/>
<path d="M100.0 134.9L165.6 134.9L166.4 129.9L169.7 129.5L172.2 136.9L177.4 139.0L190.8 141.7L211.4 145.8L221.7 144.3L240.3 146.8L253.1 143.7L265.1 148.9L298.1 162.3L301.2 167.0L307.4 167.9L310.5 171.6L315.6 174.1L318.7 176.7L329.0 181.5L333.1 204.2L327.0 217.0L321.2 224.2L322.4 226.9L328.0 229.4L345.5 222.1L364.1 218.6L375.4 214.5L373.4 206.7L377.5 204.6L400.0 203.6L408.3 198.4L419.6 190.2L426.8 187.1L446.4 186.0L460.0 186.4" fill="none" stroke="#111" stroke-width="2.2" stroke-linejoin="round"/>
<path d="M534.1 121.0L533.1 122.7L526.9 127.4L509.6 133.6L500.9 141.1L489.7 152.2L475.5 162.7L486.0 159.9L495.9 151.0L505.8 144.2L519.5 138.6L534.3 133.0L552.3 131.8L564.7 138.3L552.9 146.0L555.4 157.2L559.1 168.3L561.0 170.8L565.3 172.6L576.4 175.7L583.9 176.4L597.5 174.5L611.8 160.3L612.4 169.6L621.0 174.3L603.7 183.2L585.1 188.8L571.5 193.7L559.1 199.9L549.8 205.5L539.9 204.2L539.3 194.3L549.2 188.8L561.6 183.2L546.7 183.2L527.5 184.4L528.8 188.1L518.2 193.1L507.1 197.4L489.7 202.4L484.8 205.5L480.4 211.7L479.2 219.1L482.9 225.3L486.6 223.4L491.0 226.5L489.7 229.6L481.1 231.5L467.4 234.0M562.2 164.0L565.9 160.9L570.9 167.7L578.9 168.3L592.6 167.7L587.6 172.0L578.9 173.3L569.0 170.8ZM560.3 123.7L571.5 123.7L583.9 126.2L595.0 130.5L594.4 133.0L588.8 132.4L574.0 128.7ZM467.4 233.9L451.3 235.5L442.0 238.0L456.3 237.1L464.3 237.4L464.9 238.9L448.8 241.7L438.9 241.1L434.6 244.2L438.9 243.6L437.7 249.8L435.2 254.7L429.0 260.9L425.3 264.9L418.5 257.0L422.2 265.3L425.3 268.4L424.7 272.7L417.9 279.5L412.9 286.9L414.2 277.6L409.8 272.7L408.6 265.9L407.7 261.5L405.5 267.1L407.3 274.6L399.3 273.3L406.7 276.4L408.6 280.1L409.2 289.4L414.2 291.9L415.4 299.3L416.6 307.4L412.3 314.2L408.0 317.9L395.6 321.0L386.9 327.8L378.2 330.3L373.3 334.6L370.8 339.0L360.9 345.0M360.9 345.0L352.6 349.8L346.4 356.6L342.7 363.4L342.1 370.9L344.0 379.6L347.7 388.2L352.0 395.7L354.5 403.1L357.6 410.5L360.1 419.2L359.5 429.1L357.6 437.8L352.6 442.7L346.4 441.5L343.4 435.9L337.8 431.6L331.6 421.7L326.0 412.4L323.9 405.6L326.6 398.1L321.1 389.5L314.2 382.0L308.0 377.7L301.2 380.8L294.4 383.9L288.2 378.9L279.6 374.0L270.9 374.6L263.4 375.8L252.3 374.0L242.4 375.2L238.7 377.7L239.3 383.3L242.4 387.6L239.3 390.7L235.0 388.8L230.0 390.7M373.7 421.7L388.6 419.8L390.4 417.3L400.3 422.9L397.9 432.8L394.8 431.0L395.4 424.2L389.8 422.3L374.9 426.0ZM230.0 390.7L220.8 390.4L211.5 383.5L199.1 384.2L190.4 382.3L179.3 384.2L171.2 386.6L160.7 395.3L149.6 400.3L142.1 406.5L137.8 413.3L137.2 423.2L139.6 432.5L135.9 444.2L132.8 456.6L132.2 471.5M132.2 471.5L130.5 476.6L135.5 488.2L140.4 499.7L147.9 509.6L154.5 519.5L169.3 526.1L175.9 531.9L187.5 527.8L202.3 525.3L215.5 521.2L223.0 516.2L225.4 508.0L226.3 498.9L232.0 493.1L245.3 489.5L258.5 487.8L271.7 487.3L273.3 493.1L270.8 499.7L265.1 505.5L263.4 514.6L260.9 526.1L255.2 527.8L256.0 539.3L254.3 547.6L252.7 555.8L248.6 558.3L249.4 560.8L255.2 563.3L265.1 560.8L279.1 560.8L286.5 559.1L296.4 560.0L306.3 562.4L320.4 572.3L318.7 585.5L316.2 598.7L314.6 610.3L312.1 618.6L314.6 629.9M100.0 549.7L103.6 550.1L116.5 551.7L133.0 559.1L147.9 564.1L166.0 556.7L172.6 556.7L184.2 562.4L195.7 574.0L205.6 582.2L215.5 586.4L225.4 588.0L237.0 593.0L248.6 596.3L260.9 597.1L263.4 600.4L271.7 608.7L281.6 618.6L287.3 622.7L285.7 629.9M296.4 483.4L305.1 475.7L318.6 469.9L332.1 467.0L353.3 468.9L368.8 475.7L382.3 475.7L395.8 486.3L405.4 491.1L417.0 493.1L418.9 497.9L428.6 498.9L436.3 504.6L434.4 508.5L415.1 507.5L403.5 508.5L390.0 509.5L395.8 501.8L384.2 496.9L376.5 488.2L364.9 485.3L353.3 481.5L337.9 477.6L336.9 473.8L324.4 474.7L310.9 479.6L303.2 484.4ZM382.3 527.8L390.0 526.8L399.6 527.8L409.3 531.7L409.3 535.5L395.8 537.5L387.1 534.6ZM445.3 512.4L448.6 509.1L458.2 509.6L467.7 510.5L472.0 509.1L479.2 509.6L484.9 512.0L490.7 512.9L493.1 516.3L500.2 517.2L500.7 520.6L506.4 521.5L512.2 525.8L506.9 531.1L501.2 527.7L491.6 528.2L485.9 530.6L482.1 531.1L481.1 528.2L477.3 530.1L473.5 536.3L471.6 539.2L468.7 536.8L467.3 531.1L462.0 530.6L458.2 531.5L452.5 531.1L443.9 531.5L439.1 533.5L432.9 529.6L432.4 525.8L439.1 525.8L448.6 526.8L456.3 527.2L459.6 525.3L455.3 521.5L453.4 515.8L448.6 513.4ZM525.0 527.2L534.6 526.8L544.1 527.7L546.5 530.6L543.7 533.9L534.6 534.4L526.0 534.4ZM381.3 447.7L386.1 441.0L391.0 445.8L393.9 459.3L390.0 460.3L385.2 453.5ZM314.6 629.9L319.8 637.3L327.5 645.0L335.3 648.9L343.0 651.8L352.6 648.9L362.3 645.0L371.9 643.1L381.6 646.0L391.2 651.8L398.9 653.7L406.7 649.8L414.4 644.0L417.3 636.3L420.2 628.6L426.0 623.8L435.6 620.9L445.3 618.9L454.9 613.2L462.6 608.3L466.7 605.4L472.8 606.4L475.5 609.9L472.8 615.9L464.9 617.6L467.3 623.2L467.6 631.1L463.2 638.2L466.7 647.1L472.8 647.1L475.9 638.2L471.7 631.1L471.7 623.2L475.5 622.2L485.2 618.8L485.8 612.2L490.6 609.3L494.5 616.1L503.1 618.0L510.9 622.8L514.7 628.6L526.3 628.6L540.0 627.6M285.7 629.9L288.0 635.3L294.7 641.1L296.7 636.3L304.4 642.1L313.1 647.9L315.0 654.6L323.7 659.5L333.3 658.5L341.0 660.4L344.9 666.2L348.8 665.3L349.7 672.0L360.3 668.2L355.5 663.3L356.5 658.5L364.2 655.6L370.0 650.8L377.7 653.7L383.5 659.5L381.6 662.4L387.4 669.1L393.1 678.8L395.1 690.3L393.1 698.1L395.1 707.7L393.1 713.5L398.0 716.4L393.1 723.1L388.3 729.9L380.6 732.8L377.7 742.4L374.8 744.4L375.8 747.3L368.1 751.1L360.3 755.0L358.4 763.7M540.0 627.6L545.4 632.5L555.1 634.4L562.8 628.6L582.1 627.6L594.6 627.2L585.0 632.1L587.9 637.3L597.5 639.2L606.2 645.0L609.1 653.7L617.8 655.6L630.3 664.3L637.1 672.0L638.1 676.8L643.9 679.7L655.4 689.4L669.9 690.3L671.8 688.4L683.4 688.0L696.0 690.7L708.5 695.2L718.1 701.9L724.9 708.7M596.6 626.7L607.2 625.3L607.2 635.5L594.1 636.3ZM724.8 708.8L730.8 712.0L734.6 723.1L740.3 740.5L747.4 742.8L747.6 752.0L738.4 761.7L741.3 765.9L764.9 767.2L765.3 781.2L775.4 772.6L795.5 778.3L812.7 785.0L819.4 792.6L817.5 799.3L831.8 795.5L850.9 801.2L858.5 802.8L874.8 802.2L894.8 812.7L904.4 822.2L912.0 827.6L916.8 830.5M1263.7 384.9L1261.5 386.7L1252.5 393.2L1239.5 403.1L1228.4 404.4L1221.0 409.9L1213.6 420.1L1204.3 426.6L1199.6 435.0L1198.7 443.3L1193.1 450.8L1185.7 458.2L1180.1 468.4L1180.1 473.1L1171.8 483.3L1169.9 494.4L1177.3 500.0L1180.1 507.4L1181.1 518.5L1182.9 533.4L1180.1 544.5M1179.2 547.4L1177.3 555.8L1173.6 566.0L1169.9 571.6L1163.1 575.6L1168.1 578.1L1171.8 586.4L1174.6 591.1L1172.7 597.6L1174.6 605.0L1179.2 613.3L1185.7 617.1L1194.1 621.7L1199.6 627.3L1203.3 634.7L1211.7 641.2L1220.1 650.5L1221.9 660.7L1228.4 669.0L1242.3 677.4L1252.5 686.7L1261.5 692.6L1264.6 694.5M676.9 119.0L675.8 123.2L672.2 127.3L683.6 130.4L689.8 127.8L701.6 131.4L698.5 141.2L707.8 139.1L709.4 146.9L713.0 153.6L707.8 165.5L699.0 165.5L693.4 162.4L694.9 153.6L692.8 151.0L676.9 162.4L670.2 161.8L678.4 155.7L666.0 152.6L653.6 153.6L641.3 153.6L627.3 153.1L625.8 148.9L634.0 144.3L627.9 141.2L639.7 132.4L645.4 121.9L645.9 119.0ZM658.0 121.7L659.8 125.0L666.0 122.1M357.1 766.4L354.0 776.8L349.1 778.7L351.0 790.3L348.5 794.0L356.5 800.2L361.4 794.0L363.8 799.5L357.1 808.8L347.3 816.1L344.2 823.5L342.5 830.9" fill="none" stroke="#000" stroke-width="3.05" stroke-linejoin="round" stroke-linecap="round"/>
<path d="M361.2 121.9V829.9M618.6 121.9V829.9M875.9 121.9V829.9M1133.2 121.9V829.9M103.9 765.5H1261.9M103.9 636.8H1261.9M103.9 508.1H1261.9M103.9 379.4H1261.9M103.9 250.6H1261.9" stroke="#808080" stroke-opacity="0.62" stroke-width="1.4" stroke-dasharray="1.5 2.85" fill="none"/>
</g>
<rect x="103.9" y="121.9" width="1158.0" height="708.0" fill="none" stroke="#000" stroke-width="2.2"/>
<text x="683" y="100" font-size="33.33" text-anchor="middle">GEFS-P90 – 10-Day Maximum Wind Speed</text>
<text x="89.2" y="258.6" font-size="27.78" text-anchor="end">40°N</text>
<text x="89.2" y="387.4" font-size="27.78" text-anchor="end">30°N</text>
<text x="89.2" y="516.1" font-size="27.78" text-anchor="end">20°N</text>
<text x="89.2" y="644.8" font-size="27.78" text-anchor="end">10°N</text>
<text x="89.2" y="773.5" font-size="27.78" text-anchor="end">0°</text>
<text x="360.7" y="866" font-size="27.78" text-anchor="middle">80°W</text>
<text x="618.1" y="866" font-size="27.78" text-anchor="middle">60°W</text>
<text x="875.4" y="866" font-size="27.78" text-anchor="middle">40°W</text>
<text x="1132.7" y="866" font-size="27.78" text-anchor="middle">20°W</text>
<text x="683" y="905" font-size="25" text-anchor="middle" style="fill:#3d3d3d">10-Day Max: 48 kt (Day 8) @ 50.0°N, 48.5°W</text>
<path d="M1289.5 931.9V63.0L1312.2 19.5L1335.0 63.0V931.9Z" fill="url(#cb)"/>
<path d="M1289.5 64.0L1312.2 19.5L1335.0 64.0Z" fill="#7a0402"/>
<path d="M1289.5 931.9V63.0L1312.2 19.5L1335.0 63.0V931.9Z" fill="none" stroke="#000" stroke-width="2.2" stroke-linejoin="miter"/>
<text x="1355" y="942.1" font-size="27.78">20</text>
<text x="1355" y="720.9" font-size="27.78">40</text>
<text x="1355" y="543.3" font-size="27.78">60</text>
<text x="1355" y="379.2" font-size="27.78">80</text>
<text x="1355" y="223.3" font-size="27.78">100</text>
<text x="1355" y="73.2" font-size="27.78">120</text>
<path d="M1335.0 931.9h9.7M1335.0 710.7h9.7M1335.0 533.1h9.7M1335.0 369.0h9.7M1335.0 213.1h9.7M1335.0 63.0h9.7" stroke="#000" stroke-width="2.2"/>
<text transform="translate(1441 499) rotate(-90)" font-size="27.78" text-anchor="middle">10m Wind Speed (knots)</text>
</svg></body></html>
